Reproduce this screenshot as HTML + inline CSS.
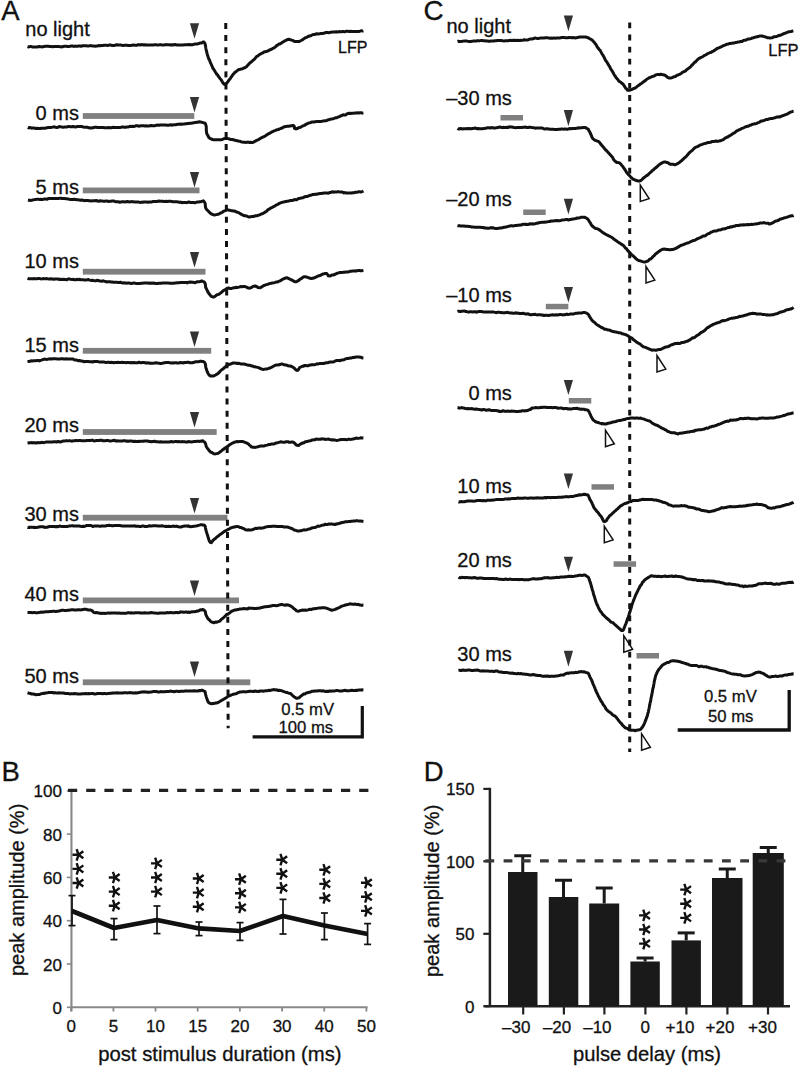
<!DOCTYPE html>
<html><head><meta charset="utf-8"><style>
html,body{margin:0;padding:0;background:#fff;}
body{width:799px;height:1067px;overflow:hidden;}
svg{display:block;font-family:"Liberation Sans", sans-serif;}
text{stroke:#111;stroke-width:0.3px;}
</style></head><body>
<svg width="799" height="1067" viewBox="0 0 799 1067">
<rect width="799" height="1067" fill="#fff"/>
<text x="1.2" y="19.75" font-size="27.5" text-anchor="start" fill="#111" >A</text>
<polyline points="27.5,46.7 28.1,46.9 28.8,46.8 29.6,46.7 30.4,46.6 31.3,46.6 32.2,46.9 33.2,46.9 34.3,47.1 35.4,47.0 36.5,46.9 37.7,46.9 38.9,46.5 40.1,46.7 41.4,46.8 42.7,46.9 44.1,46.4 45.5,46.2 46.8,46.2 48.3,46.3 49.7,46.5 51.1,46.5 52.6,46.7 54.1,46.5 55.5,46.6 57.0,46.6 58.5,46.4 60.0,46.8 61.0,46.8 62.1,46.9 63.2,46.5 64.3,46.3 65.4,46.3 66.5,46.3 67.7,46.4 68.8,46.4 70.0,46.3 71.2,46.1 72.4,46.0 73.7,46.4 74.9,46.1 76.1,46.2 77.4,46.2 78.6,45.9 79.9,46.0 81.2,46.3 82.5,45.7 83.7,45.8 85.0,45.8 86.3,45.7 87.6,45.9 88.9,45.9 90.2,45.6 91.5,45.8 92.7,45.9 94.0,46.0 95.3,46.2 96.6,46.0 97.8,45.9 99.1,45.5 100.3,45.7 101.6,45.5 102.8,45.4 104.0,45.2 105.2,45.2 106.4,45.2 107.6,45.6 108.9,45.1 110.1,45.0 111.4,45.2 112.7,45.6 114.0,45.6 115.3,45.1 116.6,44.7 117.9,45.0 119.2,45.0 120.5,44.9 121.8,45.2 123.0,45.4 124.3,45.3 125.6,45.3 126.9,45.3 128.2,45.5 129.4,45.5 130.7,45.4 131.9,45.3 133.2,44.9 134.4,45.2 135.6,45.3 136.9,45.3 138.1,44.7 139.3,44.7 140.4,45.0 141.6,44.6 142.8,44.7 143.9,45.0 145.0,44.7 146.1,45.1 147.2,45.1 148.3,44.9 149.3,44.9 150.4,45.0 151.4,44.9 153.0,45.1 154.5,44.8 156.0,44.7 157.4,44.9 158.9,44.9 160.3,44.6 161.6,44.9 163.0,45.1 164.3,44.9 165.6,44.6 166.8,44.7 168.1,44.7 169.3,44.7 170.4,45.0 171.6,44.7 172.7,45.0 173.8,44.7 174.9,44.6 176.0,44.8 177.0,45.1 178.0,45.1 179.0,45.0 180.0,45.0 181.7,44.9 183.2,44.9 184.7,44.7 186.1,44.7 187.4,44.7 188.6,44.6 189.8,44.7 190.9,44.6 191.9,44.9 192.9,44.6 193.9,44.3 194.9,44.1 195.8,44.0 197.7,43.9 199.3,43.3 200.8,42.9 202.0,42.9 203.1,42.0 204.0,42.1 204.8,43.1 205.2,44.4 205.5,45.9 205.7,47.3 206.0,49.1 206.3,50.3 206.6,51.4 207.0,53.2 207.3,54.4 207.7,55.5 208.1,56.8 208.5,58.0 208.9,59.2 209.4,59.8 209.9,61.1 210.4,62.7 210.9,63.6 211.5,64.8 212.0,66.1 212.6,67.5 213.2,68.8 213.9,69.4 214.5,70.5 215.2,71.7 216.0,73.0 216.7,74.3 217.5,74.8 218.4,76.4 219.2,77.2 220.0,78.6 220.8,79.3 221.5,80.4 222.5,82.1 223.3,83.3 224.1,84.2 225.0,84.5 225.7,84.0 226.6,83.2 227.4,82.4 228.3,81.2 229.1,79.8 230.0,79.1 230.8,77.6 231.7,76.6 232.5,75.2 233.3,74.1 234.2,73.2 235.0,72.3 236.3,71.4 237.6,70.3 238.8,69.6 240.0,69.4 241.3,68.9 242.6,68.7 244.0,67.9 244.9,67.8 245.8,67.1 246.8,66.4 247.8,65.1 248.9,64.1 250.0,62.8 250.9,62.2 251.8,61.6 252.8,60.4 253.8,59.7 254.8,58.9 255.7,57.7 256.7,56.4 257.6,56.1 258.7,55.2 259.8,54.3 260.8,53.8 261.9,53.2 262.9,52.9 264.0,52.0 265.1,51.7 266.2,51.5 267.3,51.3 268.5,50.6 269.7,49.9 271.0,49.5 272.0,48.9 273.1,48.2 274.2,47.8 275.4,46.9 276.5,45.7 277.7,45.1 278.9,44.1 280.0,43.9 281.1,43.3 282.2,42.4 283.4,41.7 284.5,41.1 285.6,40.4 286.8,40.0 287.9,39.4 289.0,39.3 290.3,39.6 291.5,40.1 292.7,40.4 294.0,41.2 295.3,41.4 296.6,41.6 298.0,41.4 299.0,41.6 300.1,41.0 301.1,40.5 302.2,39.9 303.3,39.2 304.4,38.3 305.6,37.7 306.8,37.3 308.1,36.5 309.4,36.0 310.4,35.8 311.5,35.3 312.6,34.7 313.7,34.4 314.8,34.5 315.9,33.9 317.1,33.7 318.3,33.9 319.5,33.8 320.8,33.6 322.2,33.5 323.6,33.3 325.0,32.8 326.1,32.5 327.2,32.4 328.4,32.7 329.7,32.5 331.0,32.3 332.3,32.1 333.6,31.9 334.9,32.0 336.3,31.8 337.6,32.0 339.0,31.6 340.3,31.8 341.6,31.7 342.9,31.4 344.1,31.7 345.3,31.7 346.5,31.2 347.6,31.2 349.1,31.4 350.6,31.3 352.0,31.5 353.5,31.5 354.9,31.5 356.3,31.4 357.6,31.5 358.8,31.4 359.9,31.3 361.0,30.7 361.9,30.9 362.7,31.1 363.4,30.9" fill="none" stroke="#111" stroke-width="3.0" stroke-linejoin="round" stroke-linecap="butt"/>
<polyline points="27.9,127.4 28.6,127.9 29.5,127.4 30.5,127.7 31.7,128.2 33.0,127.9 34.4,128.1 35.8,128.5 37.2,128.3 38.6,128.4 40.0,128.5 41.3,128.2 42.5,128.2 43.7,128.2 44.8,128.3 45.9,128.1 46.9,127.9 48.0,127.5 49.0,127.4 50.1,127.5 51.4,127.4 52.7,127.1 54.3,126.8 56.0,127.4 57.0,127.4 58.0,127.3 59.2,126.6 60.4,126.8 61.7,126.9 63.0,127.2 64.4,127.1 65.8,126.9 67.2,126.9 68.6,126.4 70.1,126.7 71.5,126.7 72.9,126.5 74.3,126.8 75.6,127.1 76.9,126.6 78.1,126.4 79.3,126.6 80.3,126.6 81.3,126.5 82.2,126.4 83.0,126.9 85.4,127.2 85.2,127.2 87.6,127.2 88.4,127.7 89.2,127.8 90.2,128.1 91.3,128.0 92.4,127.7 93.6,127.7 94.8,127.2 96.1,127.2 97.5,127.4 98.9,127.6 100.3,127.5 101.7,127.5 103.1,127.6 104.5,127.7 105.9,127.8 107.3,127.7 108.6,127.6 109.9,127.7 111.2,127.7 112.4,127.4 113.5,127.3 114.6,127.4 116.1,127.4 117.4,127.4 118.7,127.4 119.9,127.4 121.1,127.3 122.2,127.0 123.3,127.1 124.4,127.3 125.5,127.2 126.6,127.0 127.7,127.0 128.9,126.7 130.0,126.3 131.3,126.4 132.6,126.3 133.7,126.5 134.9,126.2 136.1,125.7 137.3,125.7 138.5,126.2 139.8,126.1 141.0,125.8 142.3,125.7 143.6,125.8 144.8,125.9 146.1,125.8 147.4,126.0 148.7,125.9 150.0,125.7 151.3,125.6 152.6,125.8 153.8,125.7 155.1,125.7 156.4,125.2 157.7,125.1 159.0,125.2 160.3,125.0 161.7,125.1 163.0,125.1 164.4,125.1 165.7,124.9 167.0,125.3 168.4,125.3 169.7,124.9 170.9,124.8 172.2,125.2 173.4,124.8 174.5,124.8 175.6,124.8 176.7,124.6 177.7,124.2 179.3,124.2 180.8,124.1 182.1,124.2 183.3,124.1 184.3,123.9 185.4,123.8 186.5,123.7 187.6,123.5 188.7,123.4 190.0,123.2 191.2,123.3 192.4,122.9 193.8,122.7 195.2,122.6 196.5,122.2 197.9,122.2 199.3,121.8 200.6,121.9 201.8,122.3 202.9,122.6 203.8,122.8 204.6,123.2 205.4,123.6 205.9,125.1 206.2,126.3 206.3,127.8 206.3,128.8 206.3,130.2 206.4,131.1 206.6,132.7 206.9,134.0 207.6,134.9 208.2,136.3 209.0,137.7 209.9,138.3 211.1,138.9 212.5,139.5 213.4,139.7 214.5,139.7 215.7,139.8 217.0,139.8 218.4,139.8 219.7,139.7 221.1,139.7 222.4,139.5 223.7,138.8 224.9,138.6 226.0,138.4 227.5,138.4 228.7,138.8 229.8,139.1 230.9,139.6 232.1,139.6 233.4,139.8 235.0,140.3 236.0,140.5 237.1,140.7 238.3,141.0 239.6,141.2 240.9,141.7 242.2,142.0 243.6,142.2 244.9,142.2 246.2,142.4 247.5,142.1 248.7,142.3 249.8,142.5 250.8,142.3 252.2,142.4 253.4,142.2 254.4,141.6 255.3,141.2 256.2,140.6 257.2,140.2 258.4,139.6 259.8,138.8 260.7,138.1 261.8,137.6 262.9,137.0 264.0,136.6 265.2,136.0 266.5,135.1 267.7,134.2 268.9,133.6 270.2,132.9 271.4,132.2 272.5,131.7 273.6,131.1 274.7,130.7 275.6,130.4 277.1,129.7 278.3,129.6 279.5,128.9 280.5,128.6 281.5,128.1 282.5,128.0 283.5,127.0 284.6,126.7 285.9,126.5 287.4,126.3 288.8,126.3 290.2,125.9 291.5,125.7 292.7,125.6 293.6,125.6 294.4,126.7 294.4,128.3 295.9,129.0 296.6,128.5 297.5,128.5 298.4,127.8 299.5,127.4 300.6,127.3 301.8,126.5 303.1,125.8 304.3,125.4 305.6,124.6 306.9,123.8 308.1,123.3 309.4,122.9 310.5,122.6 311.6,122.0 312.9,122.0 314.1,122.0 315.2,121.7 316.3,121.6 317.3,121.4 318.4,121.6 319.5,121.4 320.7,121.4 322.0,121.2 323.4,120.9 325.0,120.8 326.0,120.8 327.0,120.4 328.1,119.8 329.3,119.7 330.5,119.2 331.7,118.9 332.9,118.7 334.2,118.4 335.5,117.7 336.8,117.7 338.1,117.0 339.4,116.6 340.7,115.9 341.9,115.5 343.1,114.8 344.3,115.0 345.5,114.9 346.6,114.2 347.6,113.7 349.1,113.2 350.6,113.5 352.0,113.2 353.5,113.2 354.9,113.0 356.3,113.0 357.6,112.8 358.8,112.9 359.9,112.7 361.0,112.8 361.9,113.0 362.7,113.1 363.4,113.0" fill="none" stroke="#111" stroke-width="3.0" stroke-linejoin="round" stroke-linecap="butt"/>
<polyline points="27.9,200.2 28.6,200.3 29.3,200.1 30.2,200.4 31.2,200.4 32.2,200.1 33.3,199.9 34.5,199.6 35.7,199.4 37.0,199.3 38.3,199.3 39.7,199.4 41.1,199.3 42.5,199.6 43.9,199.1 45.4,198.9 46.8,199.3 48.2,198.6 49.7,198.4 51.0,198.5 52.4,198.5 53.7,198.5 55.0,198.4 56.2,198.5 57.4,198.5 58.6,198.6 59.8,198.2 61.0,198.2 62.1,198.4 63.3,198.4 64.5,198.4 65.7,198.8 66.9,198.8 68.1,199.1 69.3,199.3 70.5,199.4 71.7,199.5 73.0,199.5 74.2,199.3 75.4,199.5 76.7,199.8 77.9,199.8 79.2,199.9 80.4,200.2 81.7,200.0 83.0,200.3 84.2,200.7 85.3,200.4 86.5,200.5 87.7,200.5 88.9,200.8 90.1,200.8 91.3,200.9 92.5,200.7 93.8,200.7 95.0,200.8 96.2,200.5 97.5,201.0 98.7,201.2 100.0,200.8 101.2,201.1 102.4,201.1 103.7,201.2 104.9,201.3 106.2,201.0 107.4,201.1 108.6,201.5 109.8,201.3 111.0,201.2 112.2,201.0 113.4,201.0 114.6,201.3 115.9,201.8 117.1,201.8 118.4,201.8 119.7,202.2 121.0,201.9 122.2,201.7 123.5,201.8 124.8,201.9 126.1,201.7 127.3,201.5 128.6,201.7 129.8,201.9 131.1,201.6 132.3,201.7 133.5,201.7 134.7,201.9 135.9,201.9 137.1,201.9 138.3,201.9 139.4,202.2 140.6,202.4 141.7,202.1 142.8,202.2 143.9,202.0 145.3,202.0 146.7,202.1 148.0,202.3 149.3,202.0 150.6,201.9 151.9,201.9 153.1,201.5 154.3,201.6 155.5,201.4 156.7,201.6 157.9,201.3 159.1,201.0 160.3,201.2 161.5,201.3 162.7,201.2 163.9,201.5 165.1,201.4 166.4,201.3 167.6,201.4 168.9,201.2 170.2,201.2 171.5,201.4 172.8,201.7 174.1,201.7 175.4,201.8 176.8,201.8 178.1,201.9 179.4,202.4 180.7,202.1 182.0,202.7 183.3,202.4 184.5,202.4 185.7,202.5 186.8,202.7 187.9,202.3 189.0,202.0 190.0,202.4 191.6,202.5 193.2,202.5 194.7,202.8 196.1,202.4 197.4,202.0 198.7,201.9 199.8,201.7 200.9,201.8 201.8,201.3 202.7,201.3 203.5,200.9 204.5,202.1 205.1,203.3 205.3,204.9 205.4,206.7 205.7,207.9 206.2,208.9 206.9,209.7 207.7,210.5 208.6,211.4 209.6,212.5 210.6,213.3 211.5,214.0 212.5,214.4 213.8,214.9 215.1,214.9 216.5,214.6 217.9,214.3 219.3,213.8 220.4,213.1 221.4,212.8 222.5,212.2 223.6,211.2 224.8,210.8 225.9,210.3 227.2,209.7 228.4,210.1 229.6,210.2 230.8,210.5 232.1,210.7 233.4,211.0 234.7,211.1 236.0,211.8 237.3,212.2 238.5,212.6 239.6,213.2 240.7,213.9 241.9,214.6 243.0,215.1 244.2,215.7 245.5,215.7 246.8,216.2 248.1,216.7 249.3,217.0 250.5,216.7 251.9,216.5 253.3,216.6 254.7,216.0 256.0,215.8 257.4,215.7 258.7,215.1 260.0,214.8 261.1,214.1 262.1,213.8 263.6,213.1 264.6,212.4 265.5,211.9 266.3,211.5 267.4,210.3 268.8,209.2 269.7,208.8 270.7,208.0 271.7,207.6 272.8,207.1 273.9,206.4 275.1,205.9 276.3,204.9 277.5,204.6 278.8,203.7 280.0,203.1 281.1,202.7 282.3,202.3 283.5,202.1 284.7,201.8 285.9,201.4 287.1,201.2 288.2,201.2 289.4,200.8 290.6,200.6 291.9,200.5 293.2,200.2 294.5,199.5 295.9,199.7 297.0,199.7 298.0,198.7 299.1,198.4 300.3,198.2 301.4,198.1 302.6,197.8 303.7,197.3 304.9,196.7 306.2,196.5 307.4,196.4 308.7,195.8 309.9,195.3 311.2,195.2 312.6,194.6 313.9,194.5 315.1,194.3 316.3,194.3 317.5,194.0 318.8,193.7 320.1,193.5 321.5,193.4 322.8,193.2 324.2,193.1 325.6,193.1 326.9,193.1 328.3,193.2 329.6,192.6 330.8,192.4 332.1,191.7 333.3,192.2 334.4,191.9 335.4,191.9 336.4,192.0 338.1,191.6 339.6,191.9 340.8,192.1 341.9,191.9 342.9,192.3 343.9,192.9 345.0,192.6 346.2,193.0 347.6,193.0 348.7,193.1 349.9,193.0 351.3,193.1 352.6,192.7 354.1,192.7 355.5,192.3 356.9,192.3 358.3,191.8 359.6,191.7 360.7,191.9 361.8,191.7 362.7,191.4 363.4,191.0" fill="none" stroke="#111" stroke-width="3.0" stroke-linejoin="round" stroke-linecap="butt"/>
<polyline points="27.5,278.3 28.1,278.5 28.8,278.7 29.6,278.7 30.4,278.8 31.2,278.7 32.1,278.9 33.0,278.7 34.0,278.6 35.0,278.8 36.0,278.8 37.1,278.7 38.3,278.6 39.4,278.6 40.6,278.8 41.8,278.9 43.1,278.6 44.3,278.8 45.6,278.8 46.9,278.6 48.3,278.9 49.6,278.9 51.0,278.8 52.4,279.0 53.7,279.3 55.1,279.0 56.5,279.1 58.0,278.9 59.4,279.5 60.8,279.2 62.2,279.4 63.6,279.2 65.1,279.4 66.5,279.8 67.9,279.1 69.3,279.1 70.7,279.3 72.0,279.4 73.4,279.3 74.7,279.8 76.1,279.7 77.4,279.3 78.6,279.7 79.9,279.3 81.1,279.8 82.3,279.7 83.5,279.8 84.8,280.1 86.0,280.1 87.3,279.8 88.5,279.6 89.7,280.1 90.9,280.4 92.2,280.2 93.4,280.5 94.6,280.7 95.8,280.8 97.0,280.3 98.1,280.5 99.3,280.9 100.5,281.1 101.7,281.3 102.9,280.8 104.0,281.1 105.2,281.4 106.4,282.0 107.5,281.7 108.7,281.7 109.9,281.8 111.0,282.1 112.2,282.0 113.4,282.3 114.5,282.2 115.7,282.3 116.9,282.3 118.1,282.4 119.2,282.4 120.4,282.2 121.6,282.7 122.8,282.9 124.0,282.8 125.2,282.9 126.4,283.2 127.7,283.0 128.9,283.1 130.1,283.2 131.4,283.4 132.6,283.3 133.9,282.9 135.1,283.3 136.3,283.4 137.5,283.4 138.7,283.4 140.0,283.4 141.3,283.3 142.5,283.2 143.9,283.1 145.2,283.1 146.5,283.1 147.8,283.0 149.2,283.3 150.6,283.1 151.9,283.3 153.3,283.1 154.7,283.3 156.0,283.6 157.4,283.5 158.8,283.2 160.2,283.2 161.5,283.3 162.9,282.9 164.3,282.9 165.6,283.0 166.9,282.9 168.3,283.0 169.6,283.2 170.9,283.2 172.2,283.3 173.4,283.2 174.7,283.0 175.9,282.9 177.1,282.8 178.3,282.7 179.4,282.7 180.5,282.4 181.6,282.4 182.7,282.5 183.7,282.4 184.7,282.5 185.7,282.6 186.6,282.6 187.5,283.0 188.4,282.2 189.2,282.3 190.0,282.0 192.9,282.3 195.2,282.7 197.0,281.8 198.5,281.7 199.6,281.7 200.5,281.4 201.2,281.4 201.7,280.9 202.3,281.2 202.8,281.4 203.5,281.6 204.5,282.2 205.1,283.5 205.4,284.6 205.5,286.1 205.7,287.4 206.2,288.3 206.8,289.6 207.5,291.0 208.2,292.5 209.0,293.5 209.8,294.6 210.6,295.7 211.4,296.3 212.7,296.9 214.0,297.0 215.4,296.0 217.0,294.8 218.0,294.6 219.0,294.2 220.1,293.4 221.3,292.5 222.5,291.4 223.7,290.4 224.9,289.9 226.0,289.1 227.3,288.3 228.6,288.0 229.9,288.5 231.1,288.6 232.4,288.1 233.7,287.8 235.0,287.7 236.3,287.3 237.7,287.4 239.0,287.1 240.4,286.6 241.7,286.8 242.9,286.5 244.0,286.5 245.7,286.8 247.1,287.4 248.4,288.1 249.7,288.2 251.1,287.6 252.6,286.7 254.0,286.2 255.3,286.0 256.7,286.6 258.0,287.4 259.8,287.7 260.7,287.5 261.7,286.9 262.7,286.3 263.9,285.5 265.1,285.1 266.3,284.7 267.5,284.3 268.8,283.8 270.0,283.4 271.2,283.3 272.5,282.9 273.9,282.7 275.2,282.4 276.5,282.0 277.8,281.9 278.9,281.3 280.0,280.9 281.4,280.1 282.5,279.3 283.5,278.9 284.5,278.5 285.6,277.9 286.8,277.8 287.8,278.1 288.9,278.6 290.0,279.3 291.2,279.7 292.4,280.3 293.6,281.1 294.8,281.8 295.9,281.8 297.0,281.3 298.2,280.7 299.4,279.8 300.5,278.9 301.7,278.4 302.8,277.4 303.9,276.8 304.9,276.8 306.3,276.9 307.4,277.3 308.5,277.7 309.9,278.3 311.6,278.6 312.6,278.3 313.8,278.1 315.0,277.5 316.4,276.9 317.8,276.2 319.2,275.7 320.6,275.3 321.9,274.4 323.1,274.0 324.2,273.7 325.1,273.4 326.8,273.6 327.6,274.6 328.4,275.8 329.6,276.1 330.6,275.8 331.8,275.1 333.1,275.1 334.5,274.5 335.9,273.9 337.3,273.2 338.6,272.9 339.8,272.5 341.0,272.4 342.1,272.5 343.3,272.3 344.6,272.3 346.1,271.9 347.7,272.1 348.7,271.8 349.9,271.3 351.2,271.3 352.6,271.1 354.0,270.9 355.4,270.8 356.8,270.9 358.2,270.5 359.5,270.5 360.7,270.8 361.8,270.7 362.7,270.5 363.4,270.4" fill="none" stroke="#111" stroke-width="3.0" stroke-linejoin="round" stroke-linecap="butt"/>
<polyline points="27.5,361.6 28.2,361.5 28.9,361.6 29.8,361.4 30.9,360.8 32.1,360.9 33.6,360.7 35.4,360.8 37.5,360.6 38.4,360.6 39.4,360.9 40.4,360.4 41.5,360.1 42.6,359.7 43.8,359.3 45.1,359.1 46.3,359.4 47.6,359.2 49.0,358.9 50.3,358.7 51.7,358.9 53.1,358.7 54.4,358.7 55.8,358.7 57.2,358.9 58.6,359.1 59.9,359.0 61.2,358.8 62.5,358.7 63.8,359.0 65.0,359.1 66.2,358.8 67.2,358.9 68.3,359.0 69.3,359.0 70.3,359.0 71.2,358.9 72.2,359.1 73.2,359.1 74.2,359.7 75.2,360.0 76.3,359.9 77.5,360.5 78.7,360.8 80.0,360.5 81.3,361.1 82.8,361.3 84.4,361.8 86.1,361.4 88.0,361.6 90.0,361.8 90.9,361.8 91.8,361.8 92.7,362.0 93.7,361.6 94.7,361.5 95.8,361.4 96.8,361.5 97.9,361.6 99.0,361.9 100.2,362.0 101.3,362.0 102.5,361.9 103.7,361.9 104.9,362.2 106.2,362.4 107.4,362.3 108.7,362.2 110.0,362.6 111.3,362.3 112.6,362.5 113.9,362.7 115.2,362.5 116.6,362.6 117.9,362.3 119.3,362.6 120.6,362.6 121.9,362.3 123.3,362.5 124.6,362.4 126.0,362.7 127.3,362.5 128.7,362.6 130.0,362.7 131.3,362.6 132.6,362.7 133.9,362.6 135.2,362.8 136.5,362.8 137.8,362.8 139.0,362.2 140.3,362.7 141.5,362.8 142.7,362.4 143.9,362.6 145.0,362.8 146.1,363.1 147.2,362.8 148.3,363.1 149.4,363.0 150.4,363.4 151.4,363.2 153.0,363.2 154.5,363.0 156.0,362.7 157.5,363.1 159.0,363.2 160.4,363.4 161.8,363.4 163.2,363.0 164.6,362.7 166.0,362.6 167.3,362.6 168.6,362.6 169.9,362.8 171.2,362.9 172.5,362.8 173.7,362.9 174.9,362.8 176.1,362.8 177.2,363.0 178.4,363.0 179.5,362.8 180.6,362.4 181.6,362.8 182.6,362.8 183.7,362.9 184.6,362.4 185.6,362.4 186.5,362.5 187.4,362.2 188.3,362.3 189.2,362.5 190.0,362.7 192.2,362.8 194.1,362.3 195.8,361.8 197.2,361.8 198.4,361.8 199.5,361.6 200.4,361.2 201.3,361.3 202.0,361.5 202.8,361.6 203.5,361.6 204.6,362.4 205.2,363.6 205.5,364.7 205.6,365.8 205.8,367.4 206.2,368.8 206.7,370.1 207.2,371.6 207.7,372.7 208.3,373.9 209.0,374.8 209.8,375.6 210.8,376.1 211.8,375.9 213.0,376.0 214.2,375.7 215.6,375.0 217.0,374.1 217.9,373.7 218.9,372.6 219.9,371.6 220.9,370.4 222.0,369.6 223.1,368.9 224.1,367.9 225.2,367.0 226.2,366.1 227.2,365.5 228.5,364.5 229.8,364.3 231.0,363.8 232.2,363.3 233.4,363.0 234.7,362.9 236.2,363.2 237.3,363.5 238.5,363.2 239.8,363.6 241.1,364.0 242.4,364.0 243.7,364.0 245.0,364.3 246.3,364.6 247.5,365.1 248.6,365.3 250.1,365.3 251.4,365.9 252.7,366.0 253.9,366.7 255.1,366.8 256.3,367.1 257.6,367.4 258.9,367.7 260.1,368.5 261.3,368.9 262.5,369.3 263.8,369.4 265.1,369.1 266.6,369.0 267.7,368.7 268.9,368.3 270.1,368.0 271.3,367.4 272.6,366.7 273.9,366.0 275.2,365.2 276.5,365.1 277.7,365.1 279.0,364.8 280.3,364.5 281.6,363.9 282.9,364.3 284.3,364.8 285.6,364.9 286.9,365.3 288.2,365.7 289.4,366.0 290.4,366.0 291.4,366.4 293.0,367.3 294.1,368.0 295.1,369.1 296.0,369.9 297.0,370.4 298.0,370.2 298.8,369.1 299.6,367.6 300.8,367.0 302.6,366.2 303.5,366.2 304.4,365.5 305.5,365.6 306.6,365.8 307.8,365.8 309.1,365.3 310.4,365.0 311.7,364.7 313.0,364.7 314.4,364.7 315.7,364.4 317.1,363.8 318.4,363.9 319.5,363.6 320.7,363.5 321.8,363.4 323.0,363.5 324.2,363.4 325.3,362.9 326.5,362.7 327.7,362.8 328.9,362.3 330.1,362.1 331.4,362.1 332.6,362.0 333.9,361.7 335.1,361.0 336.4,360.6 337.6,360.6 338.8,360.5 340.0,360.7 341.3,360.1 342.6,360.0 343.9,359.8 345.3,359.0 346.6,358.6 347.9,358.5 349.2,358.2 350.4,358.0 351.7,357.9 352.8,357.5 353.9,357.5 354.9,357.2 355.9,357.0 356.7,357.1 359.0,356.9 360.7,357.2 361.9,357.8 362.7,358.0 363.4,358.1" fill="none" stroke="#111" stroke-width="3.0" stroke-linejoin="round" stroke-linecap="butt"/>
<polyline points="27.5,443.0 28.1,442.9 28.8,443.1 29.5,442.7 30.3,442.8 31.1,442.7 31.9,442.5 32.8,442.9 33.7,442.6 34.7,442.9 35.7,442.8 36.7,443.0 37.8,442.5 38.9,442.7 40.0,442.8 41.1,442.5 42.3,442.3 43.5,442.7 44.7,442.4 46.0,442.1 47.2,441.9 48.5,442.0 49.8,442.0 51.2,441.9 52.5,442.1 53.8,441.8 55.2,441.8 56.6,442.0 58.0,441.5 59.4,441.7 60.8,441.9 62.2,441.3 63.6,441.1 65.0,440.9 66.4,440.6 67.8,440.9 69.3,440.6 70.7,440.9 72.1,441.2 73.5,440.7 74.9,440.7 76.3,440.4 77.7,440.7 79.0,440.6 80.4,440.6 81.7,440.7 83.1,440.8 84.4,440.7 85.7,440.7 86.9,440.6 88.0,440.6 89.2,440.4 90.4,440.5 91.6,440.2 92.8,440.3 94.0,440.9 95.3,440.8 96.5,440.5 97.8,440.6 99.0,440.5 100.3,440.2 101.6,440.3 102.9,440.7 104.2,440.8 105.5,440.8 106.7,440.6 108.0,440.5 109.3,440.9 110.7,440.9 112.0,440.7 113.3,440.4 114.6,440.3 115.9,441.1 117.2,440.8 118.5,440.9 119.8,441.0 121.1,441.0 122.4,441.0 123.6,440.7 124.9,440.7 126.2,441.2 127.5,441.1 128.7,441.3 130.0,440.9 131.2,441.0 132.5,441.2 133.7,441.5 134.9,441.2 136.1,441.4 137.3,441.5 138.5,441.3 139.6,441.4 140.8,441.3 141.9,441.2 143.1,441.3 144.2,440.9 145.2,441.1 146.3,441.1 147.4,441.0 148.4,441.2 149.4,441.5 150.4,441.5 151.4,441.8 153.0,441.5 154.6,441.3 156.2,441.8 157.7,441.8 159.2,442.0 160.7,441.7 162.1,441.9 163.5,441.9 164.9,442.0 166.3,441.9 167.6,442.1 169.0,441.9 170.3,441.7 171.5,441.5 172.8,441.9 174.0,441.8 175.1,441.6 176.3,441.6 177.4,441.7 178.6,441.5 179.6,441.7 180.7,441.7 181.7,441.7 182.7,441.6 183.7,441.8 184.7,441.8 185.6,441.9 186.6,442.0 187.5,442.1 188.3,441.6 189.2,441.7 190.0,441.7 192.2,441.9 194.1,441.5 195.8,441.4 197.2,441.3 198.4,441.2 199.5,441.4 200.4,441.1 201.2,441.3 202.0,440.9 202.7,440.7 203.5,441.4 204.8,442.3 205.5,443.6 205.9,445.0 206.2,446.5 206.9,447.5 207.7,448.8 208.6,449.8 209.6,451.1 210.5,452.0 211.5,452.4 212.5,452.9 213.9,453.8 215.3,453.9 216.8,453.6 218.2,453.3 219.3,452.6 220.4,451.7 221.5,450.8 222.6,449.8 223.8,449.1 224.8,448.1 225.9,447.6 226.9,446.8 228.1,446.0 229.2,445.1 230.5,444.2 231.7,443.5 233.0,442.9 234.3,442.3 235.7,441.9 237.0,441.5 238.3,441.7 239.5,441.6 241.0,441.5 242.4,441.4 243.7,441.9 245.0,442.4 246.3,442.9 247.4,443.4 248.4,443.8 249.4,445.1 250.5,445.9 251.7,447.1 253.1,447.2 254.2,447.2 255.3,447.4 256.6,447.1 257.9,446.8 259.2,446.4 260.6,446.0 261.9,446.1 263.1,445.9 264.3,445.9 265.7,445.4 267.2,445.1 268.5,444.6 269.9,444.6 271.1,444.0 272.3,444.0 273.3,444.0 274.8,443.7 275.8,442.9 277.8,442.7 278.7,442.4 279.8,442.1 281.0,441.8 282.4,442.1 283.8,442.4 285.2,442.0 286.6,441.7 287.9,441.7 289.2,442.3 290.4,442.3 291.4,442.1 292.9,442.1 294.2,442.8 295.3,443.9 296.3,445.0 297.2,445.3 298.1,445.4 299.2,445.2 299.9,444.3 300.9,443.9 302.6,442.9 303.5,443.0 304.6,442.2 305.8,441.7 307.0,441.6 308.4,441.1 309.8,440.9 311.1,440.5 312.5,439.9 313.8,439.8 315.0,439.7 316.1,439.0 317.6,439.3 319.0,439.2 320.3,439.3 321.5,438.8 322.7,438.9 323.9,439.0 325.1,439.4 326.3,439.2 327.5,439.2 328.7,439.1 329.9,439.5 331.2,439.9 332.6,439.7 334.1,439.9 335.2,440.1 336.3,440.4 337.4,440.4 338.6,440.1 339.9,439.7 341.1,439.5 342.4,439.4 343.7,439.5 345.0,439.4 346.4,439.7 347.7,439.5 348.9,439.1 350.2,439.4 351.5,439.3 352.9,439.1 354.3,438.7 355.7,438.3 357.1,438.1 358.4,438.4 359.7,438.1 360.8,437.8 361.8,438.0 362.7,438.0 363.4,438.1" fill="none" stroke="#111" stroke-width="3.0" stroke-linejoin="round" stroke-linecap="butt"/>
<polyline points="27.5,527.4 28.1,527.6 28.8,527.3 29.5,527.5 30.3,527.2 31.1,527.3 31.9,527.3 32.8,527.3 33.7,527.4 34.7,527.3 35.7,527.4 36.7,527.4 37.8,527.3 38.9,527.0 40.0,526.8 41.1,526.8 42.3,526.8 43.5,526.8 44.7,527.4 46.0,527.3 47.2,527.2 48.5,526.8 49.8,526.6 51.2,526.6 52.5,526.6 53.8,526.4 55.2,526.8 56.6,526.5 58.0,526.7 59.4,526.1 60.8,526.3 62.2,526.4 63.6,526.4 65.0,526.5 66.4,526.5 67.8,526.4 69.3,525.9 70.7,525.9 72.1,525.6 73.5,526.0 74.9,526.1 76.3,526.1 77.7,525.9 79.0,525.9 80.4,526.3 81.7,526.5 83.1,526.3 84.4,526.4 85.7,525.9 86.9,525.5 88.0,525.6 89.2,525.6 90.4,525.6 91.6,525.8 92.8,526.5 94.0,526.1 95.3,526.0 96.5,526.0 97.8,526.0 99.0,526.1 100.3,526.4 101.6,525.9 102.9,525.9 104.2,525.9 105.5,526.0 106.7,525.6 108.0,525.4 109.3,525.2 110.7,525.6 112.0,525.8 113.3,525.8 114.6,525.4 115.9,525.5 117.2,525.6 118.5,525.4 119.8,525.5 121.1,525.8 122.4,526.0 123.6,525.9 124.9,526.0 126.2,525.9 127.5,525.9 128.7,525.9 130.0,526.1 131.2,526.0 132.5,525.9 133.7,525.9 134.9,525.8 136.1,526.3 137.3,526.3 138.5,526.2 139.6,526.6 140.8,526.6 141.9,526.0 143.1,526.1 144.2,526.2 145.2,526.5 146.3,526.5 147.4,526.5 148.4,526.0 149.4,525.8 150.4,526.0 151.4,526.1 153.0,525.8 154.6,525.8 156.2,525.8 157.7,525.9 159.2,526.0 160.7,526.0 162.1,525.8 163.5,526.1 164.9,526.4 166.3,526.3 167.6,526.4 169.0,526.3 170.3,526.4 171.5,526.4 172.8,526.1 174.0,526.2 175.1,526.4 176.3,526.1 177.4,526.5 178.6,526.8 179.6,526.9 180.7,527.0 181.7,526.7 182.7,526.4 183.7,526.2 184.7,526.0 185.6,526.1 186.6,526.1 187.5,526.2 188.3,525.8 189.2,526.4 190.0,526.7 192.2,526.4 194.1,526.2 195.8,526.0 197.2,525.7 198.4,525.4 199.5,525.1 200.4,524.8 201.3,524.8 202.0,524.8 202.8,524.9 203.5,524.9 204.7,525.6 205.3,526.6 205.5,528.0 205.7,529.2 206.2,531.0 206.6,532.2 206.9,533.4 207.3,534.5 207.7,535.8 208.1,537.2 208.6,538.7 209.0,540.2 209.4,541.1 209.9,541.7 210.3,542.4 211.2,542.7 212.1,541.7 213.2,540.2 214.8,538.8 215.6,538.4 216.4,537.4 217.4,536.6 218.4,536.0 219.4,534.9 220.5,534.2 221.6,533.5 222.8,532.7 223.9,531.7 225.0,531.1 226.0,530.5 227.1,530.0 228.3,529.2 229.4,528.9 230.6,528.0 231.7,527.6 232.9,527.3 234.0,527.2 235.1,526.7 236.2,526.7 237.3,526.4 238.6,526.7 239.9,527.4 241.2,527.6 242.4,528.2 243.7,528.6 244.9,529.4 246.1,530.0 247.4,530.1 248.6,529.8 249.8,529.9 250.9,529.9 252.0,529.8 253.2,529.5 254.5,528.7 256.0,528.3 257.6,528.5 258.6,528.0 259.6,528.1 260.8,528.3 262.0,528.1 263.2,527.9 264.5,527.5 265.7,526.9 267.0,526.8 268.3,526.6 269.6,526.5 270.9,526.5 272.2,526.3 273.4,526.3 274.5,526.3 275.6,526.2 277.0,526.5 278.4,526.5 279.7,526.4 281.0,526.4 282.3,526.4 283.5,526.9 284.7,527.0 285.9,526.9 287.0,527.1 288.1,527.3 289.1,527.5 290.6,528.3 291.9,528.5 293.0,529.3 294.2,530.0 295.3,530.2 296.6,530.7 298.1,530.9 299.2,531.0 300.3,530.8 301.5,530.7 302.7,530.2 303.9,529.8 305.2,529.9 306.5,529.8 307.8,529.4 309.1,528.9 310.4,528.8 311.6,528.0 312.8,527.7 314.1,527.6 315.3,527.4 316.6,526.8 317.9,526.1 319.1,526.2 320.4,525.9 321.6,525.4 322.8,525.1 324.0,525.1 325.1,524.3 326.4,524.5 327.7,524.5 328.9,523.9 330.0,524.2 331.2,523.8 332.4,524.2 333.6,524.2 335.0,524.5 336.4,524.0 337.5,523.7 338.6,523.7 339.8,523.2 341.1,522.8 342.4,522.5 343.7,522.3 345.0,521.8 346.3,521.8 347.5,521.7 348.8,521.4 350.0,521.5 351.1,521.2 352.2,521.2 353.7,520.9 355.2,521.0 356.7,520.6 358.1,520.9 359.4,521.0 360.7,521.1 361.8,521.2 362.7,521.3 363.4,521.4" fill="none" stroke="#111" stroke-width="3.0" stroke-linejoin="round" stroke-linecap="butt"/>
<polyline points="27.5,612.6 28.1,612.6 28.8,612.6 29.6,612.6 30.5,612.4 31.3,612.5 32.3,612.7 33.3,612.6 34.4,612.4 35.5,612.7 36.6,612.7 37.8,612.7 39.0,612.6 40.3,612.3 41.6,612.1 42.9,612.2 44.3,611.9 45.6,611.7 47.0,611.7 48.5,611.7 49.9,611.4 51.4,611.5 52.8,611.3 54.3,611.3 55.8,611.4 57.3,611.2 58.7,611.2 60.2,610.7 61.7,610.3 63.2,610.3 64.6,610.4 66.1,610.6 67.5,610.2 68.9,610.2 70.3,609.9 71.6,609.8 73.0,609.8 74.3,609.9 75.5,609.9 76.7,610.0 77.9,609.7 79.1,609.8 80.2,609.9 81.2,609.8 82.2,609.7 83.2,609.5 84.1,609.3 84.9,609.3 85.7,609.3 88.4,610.0 90.3,609.9 91.5,610.5 92.1,610.7 92.5,611.0 92.7,611.5 93.0,611.7 93.6,612.3 94.6,612.7 96.3,612.6 98.8,613.0 99.6,613.2 100.4,613.2 101.3,613.5 102.2,613.3 103.2,613.3 104.2,613.4 105.3,613.2 106.3,613.4 107.5,613.1 108.6,612.9 109.8,613.2 111.0,613.0 112.2,613.1 113.5,612.9 114.8,613.1 116.1,612.9 117.4,613.2 118.7,612.9 120.1,613.2 121.4,613.2 122.8,613.2 124.2,613.2 125.6,613.3 127.0,613.0 128.4,612.6 129.7,612.9 131.1,612.8 132.5,612.9 133.9,613.1 135.3,612.7 136.6,612.8 138.0,612.8 139.3,612.7 140.6,613.0 141.9,613.0 143.2,612.9 144.5,612.7 145.7,613.0 146.9,612.9 148.1,613.1 149.2,613.1 150.3,612.7 151.4,612.6 152.8,612.8 154.2,612.9 155.7,613.1 157.1,613.2 158.5,613.3 159.9,613.0 161.2,612.9 162.6,613.1 164.0,612.9 165.3,613.1 166.7,612.6 168.0,612.8 169.3,612.8 170.6,612.4 171.9,612.7 173.1,612.8 174.4,612.8 175.6,612.5 176.8,612.5 178.0,612.8 179.1,612.6 180.3,611.9 181.4,612.0 182.4,612.0 183.5,612.2 184.5,612.2 185.5,612.1 186.5,612.0 187.4,612.4 188.3,612.0 189.2,612.5 190.0,612.2 192.2,611.8 194.1,611.8 195.8,611.6 197.2,611.0 198.4,610.9 199.5,610.2 200.4,609.8 201.3,610.0 202.0,609.8 202.8,609.5 203.5,609.8 204.7,610.7 205.2,611.6 205.5,612.5 205.7,614.0 206.2,615.4 206.9,616.7 207.7,618.2 208.5,619.2 209.5,620.1 210.4,621.1 211.4,622.0 212.6,622.2 214.0,622.8 215.3,622.1 216.8,622.2 218.2,621.6 219.1,621.3 220.1,620.8 221.0,619.7 222.0,618.9 222.9,618.1 223.9,617.3 225.0,616.2 226.0,615.2 227.1,614.2 228.1,614.2 229.2,613.2 230.3,612.4 231.4,611.3 232.6,611.0 233.8,610.3 235.0,610.1 236.2,609.9 237.4,609.5 238.6,609.4 239.9,609.0 241.2,608.9 242.4,608.8 243.7,608.6 245.0,608.7 246.3,608.7 247.6,608.9 248.8,608.1 250.1,608.2 251.3,608.2 252.6,608.2 253.8,608.4 255.1,608.5 256.3,608.4 257.6,608.2 258.8,608.2 260.1,608.1 261.3,607.5 262.5,607.4 263.7,607.0 264.9,606.7 266.2,606.7 267.5,606.6 268.8,606.5 270.0,606.1 271.2,606.0 272.4,605.6 273.7,605.6 275.0,605.6 276.3,605.7 277.6,605.6 278.9,605.0 280.1,604.8 281.2,604.5 282.3,604.6 283.9,605.1 285.3,605.2 286.6,604.8 287.9,605.0 289.1,605.2 290.3,605.9 291.4,606.4 292.6,607.2 293.6,608.4 294.5,609.0 295.5,609.7 296.6,610.9 298.1,611.2 299.1,611.0 300.2,610.6 301.4,610.4 302.6,610.0 303.9,610.2 305.2,610.1 306.6,610.2 307.9,609.9 309.2,609.5 310.4,609.2 311.6,609.5 313.0,608.8 314.3,608.7 315.6,608.5 316.9,608.4 318.2,608.1 319.4,608.0 320.6,608.0 321.8,607.8 322.9,607.7 324.3,607.8 325.7,608.0 327.0,608.4 328.3,608.9 329.6,609.4 330.8,610.0 331.9,610.3 333.3,609.9 334.6,609.6 335.9,609.0 337.1,608.5 338.6,607.8 339.6,607.4 340.6,606.8 341.5,606.2 342.6,605.9 343.7,605.6 344.9,605.2 346.2,604.8 347.7,604.5 348.7,604.2 349.9,603.8 351.2,604.1 352.6,604.2 354.0,604.2 355.4,604.1 356.8,604.6 358.2,604.3 359.5,604.9 360.7,605.0 361.8,605.5 362.7,605.1 363.4,605.1" fill="none" stroke="#111" stroke-width="3.0" stroke-linejoin="round" stroke-linecap="butt"/>
<polyline points="27.5,692.8 28.2,693.0 29.2,693.3 30.4,693.4 31.7,694.1 33.1,694.1 34.5,694.3 36.0,694.7 37.5,694.6 38.5,694.5 39.4,694.5 40.3,694.2 41.1,693.8 42.1,693.6 43.0,693.3 44.2,693.5 45.4,692.9 46.9,692.9 48.7,692.5 50.7,692.4 51.5,692.4 52.4,692.5 53.3,692.7 54.2,693.0 55.1,692.7 56.0,692.9 57.0,693.0 57.9,693.1 58.9,692.8 60.0,693.0 61.0,693.0 62.1,693.1 63.2,693.0 64.3,693.2 65.5,693.5 66.7,693.6 67.9,693.5 69.2,693.7 70.5,693.9 71.8,693.6 73.2,693.9 74.6,693.5 76.1,693.7 77.6,693.9 79.1,694.1 80.7,694.0 82.3,693.8 84.0,693.7 85.7,693.5 86.6,693.8 87.6,693.7 88.6,693.6 89.7,693.8 90.7,693.6 91.8,693.6 92.9,693.5 94.0,693.9 95.2,694.1 96.4,693.8 97.5,693.4 98.8,693.5 100.0,693.5 101.2,693.6 102.5,693.7 103.8,693.5 105.0,693.6 106.3,693.7 107.6,693.6 108.9,693.4 110.3,693.2 111.6,693.3 112.9,693.0 114.3,693.0 115.6,692.9 117.0,692.7 118.3,692.9 119.7,692.9 121.0,692.9 122.4,693.1 123.7,692.7 125.1,692.7 126.4,692.8 127.7,692.9 129.1,692.6 130.4,692.7 131.7,692.7 133.0,692.9 134.3,692.9 135.5,692.8 136.8,693.1 138.0,692.7 139.3,692.5 140.5,692.3 141.7,692.1 142.8,692.1 144.0,691.8 145.1,691.9 146.2,692.1 147.3,692.3 148.4,692.1 149.4,692.3 150.4,692.1 151.4,692.0 153.0,691.6 154.6,691.5 156.2,691.5 157.7,691.9 159.2,692.0 160.7,691.6 162.1,691.7 163.5,691.8 164.9,691.7 166.3,691.6 167.6,691.5 169.0,691.4 170.3,691.1 171.5,691.2 172.8,691.6 174.0,691.8 175.1,691.5 176.3,691.3 177.4,691.2 178.6,691.4 179.6,691.4 180.7,691.2 181.7,691.3 182.7,691.2 183.7,691.3 184.7,691.1 185.6,690.8 186.6,690.9 187.5,691.1 188.3,690.9 189.2,690.9 190.0,691.1 192.2,690.9 194.1,690.7 195.8,691.0 197.2,690.9 198.5,690.9 199.5,690.4 200.5,690.7 201.3,690.2 202.1,690.2 202.8,690.5 203.5,690.9 204.8,691.4 205.3,692.4 205.4,693.9 205.8,695.1 206.2,696.6 206.7,698.1 207.1,699.3 207.6,700.8 208.3,702.1 209.1,702.9 210.2,703.4 211.4,703.8 212.8,703.5 214.3,703.4 215.7,703.0 217.0,702.9 218.2,702.3 219.4,701.8 220.5,701.1 221.6,700.4 222.7,699.9 223.8,699.1 224.8,698.6 225.7,698.0 226.6,697.5 227.6,696.6 228.9,696.0 230.5,695.4 231.4,694.9 232.4,694.6 233.5,694.2 234.6,693.9 235.8,693.8 237.1,693.2 238.3,692.6 239.6,692.1 241.0,692.0 242.3,691.8 243.7,691.7 245.0,691.7 246.3,691.9 247.5,691.6 248.6,691.5 249.9,691.2 251.1,691.3 252.4,691.4 253.7,691.5 254.9,691.0 256.2,691.2 257.5,691.5 258.7,691.5 259.9,691.0 261.1,691.0 262.2,691.1 263.3,691.2 264.3,690.9 265.8,690.7 267.2,690.8 268.5,690.3 269.7,690.5 270.8,690.2 271.9,690.1 273.1,689.7 274.3,689.6 275.6,689.9 276.8,689.8 278.0,690.5 279.3,690.3 280.6,690.4 281.9,690.9 283.2,691.4 284.5,691.9 285.8,692.2 287.0,692.5 288.1,692.9 289.1,693.2 290.5,693.4 291.8,694.7 292.9,695.8 293.9,696.7 294.9,697.3 295.9,698.0 297.0,698.2 298.1,698.0 299.2,697.8 300.2,696.6 301.3,695.9 302.4,694.9 303.6,694.1 304.9,693.9 306.0,693.2 307.1,692.8 308.3,692.4 309.5,692.3 310.8,691.8 312.1,691.2 313.4,691.3 314.7,691.0 316.1,690.9 317.2,691.0 318.4,690.7 319.5,690.7 320.6,690.8 321.8,690.9 323.0,690.8 324.3,691.1 325.5,691.5 326.8,691.2 328.2,691.5 329.6,690.9 330.7,691.2 331.8,691.0 333.0,691.0 334.2,690.9 335.4,690.8 336.6,690.6 337.9,690.6 339.1,690.9 340.4,691.1 341.7,690.9 342.9,690.7 344.2,690.5 345.4,690.3 346.6,690.8 347.7,690.8 349.0,690.7 350.4,690.5 351.8,690.2 353.2,690.5 354.6,690.6 356.0,690.2 357.3,690.4 358.6,690.0 359.8,690.1 360.9,689.9 361.9,689.8 362.7,689.9 363.4,690.0" fill="none" stroke="#111" stroke-width="3.0" stroke-linejoin="round" stroke-linecap="butt"/>
<text x="25.3" y="35.5" font-size="20" text-anchor="start" fill="#111" >no light</text>
<text x="78.9" y="120.4" font-size="20" text-anchor="end" fill="#111" >0 ms</text>
<text x="78.9" y="194.2" font-size="20" text-anchor="end" fill="#111" >5 ms</text>
<text x="78.9" y="268.3" font-size="20" text-anchor="end" fill="#111" >10 ms</text>
<text x="78.9" y="352" font-size="20" text-anchor="end" fill="#111" >15 ms</text>
<text x="78.9" y="431.5" font-size="20" text-anchor="end" fill="#111" >20 ms</text>
<text x="78.9" y="521.4" font-size="20" text-anchor="end" fill="#111" >30 ms</text>
<text x="78.9" y="601" font-size="20" text-anchor="end" fill="#111" >40 ms</text>
<text x="78.9" y="682.5" font-size="20" text-anchor="end" fill="#111" >50 ms</text>
<rect x="82.8" y="113.1" width="111.5" height="5.8" fill="#808080"/>
<rect x="82.8" y="187.5" width="116.7" height="5.8" fill="#808080"/>
<rect x="82.8" y="268.8" width="122.7" height="5.8" fill="#808080"/>
<rect x="82.8" y="347.9" width="128.4" height="5.8" fill="#808080"/>
<rect x="82.8" y="429.1" width="133.9" height="5.8" fill="#808080"/>
<rect x="82.8" y="514.8" width="144.6" height="5.8" fill="#808080"/>
<rect x="82.8" y="597.5" width="156.2" height="5.8" fill="#808080"/>
<rect x="82.8" y="679.4" width="167.5" height="5.8" fill="#808080"/>
<polygon points="189.9,23.2 199.1,23.2 194.5,38.8" fill="#333"/>
<polygon points="189.9,97.0 199.1,97.0 194.5,112.5" fill="#333"/>
<polygon points="189.9,172.0 199.1,172.0 194.5,187.5" fill="#333"/>
<polygon points="189.9,252.1 199.1,252.1 194.5,267.6" fill="#333"/>
<polygon points="189.9,331.4 199.1,331.4 194.5,346.9" fill="#333"/>
<polygon points="189.9,412.0 199.1,412.0 194.5,427.5" fill="#333"/>
<polygon points="189.9,498.0 199.1,498.0 194.5,513.5" fill="#333"/>
<polygon points="189.9,580.5 199.1,580.5 194.5,596.0" fill="#333"/>
<polygon points="189.9,661.6 199.1,661.6 194.5,677.1" fill="#333"/>
<text x="338" y="53" font-size="16" text-anchor="start" fill="#111" >LFP</text>
<line x1="225.75" y1="22.9" x2="228.15" y2="728.3" stroke="#111" stroke-width="3" stroke-dasharray="6 6.12"/>
<polyline points="252.6,736.8 362.3,736.8 362.3,706" fill="none" stroke="#111" stroke-width="3.2"/>
<text x="307.6" y="715.05" font-size="16.7" text-anchor="middle" fill="#111" >0.5 mV</text>
<text x="305.8" y="733" font-size="16.7" text-anchor="middle" fill="#111" >100 ms</text>
<text x="423.5" y="19.6" font-size="27.8" text-anchor="start" fill="#111" >C</text>
<polyline points="457.5,41.4 458.1,41.2 458.9,41.5 459.7,41.6 460.5,41.4 461.5,41.4 462.5,41.2 463.6,41.1 464.7,40.9 465.8,41.0 467.0,41.1 468.3,41.4 469.6,41.4 470.9,41.4 472.2,41.2 473.6,41.1 475.0,41.0 476.4,41.0 477.8,40.6 479.2,40.9 480.6,40.6 482.0,40.6 483.4,40.8 484.7,40.7 486.1,41.1 487.4,40.9 488.7,41.2 490.0,41.2 491.2,40.9 492.4,40.9 493.6,41.1 494.9,40.8 496.1,40.8 497.4,40.6 498.7,40.6 500.0,40.6 501.3,40.6 502.7,40.8 504.0,40.9 505.3,40.8 506.6,40.7 507.9,40.8 509.2,40.6 510.5,40.3 511.8,40.6 513.1,40.3 514.3,40.5 515.5,40.2 516.7,40.6 517.9,40.2 519.0,40.4 520.1,40.6 521.2,40.2 522.2,40.4 523.2,40.1 524.1,39.7 525.0,40.0 526.9,40.0 528.5,39.7 529.8,39.1 530.9,39.1 531.9,39.0 532.8,38.8 533.7,38.6 534.6,38.1 535.7,38.1 536.9,38.4 538.3,38.5 540.0,38.1 540.9,37.9 541.9,38.0 543.0,38.1 544.1,38.1 545.2,37.8 546.4,37.8 547.6,37.8 548.9,38.1 550.2,38.2 551.5,38.1 552.8,38.2 554.1,37.9 555.4,38.2 556.8,37.9 558.1,37.9 559.4,38.0 560.7,37.8 562.0,37.6 563.3,37.4 564.5,37.6 565.7,37.7 566.8,37.7 567.9,37.8 569.0,37.4 570.0,37.6 571.6,37.7 573.1,37.6 574.6,37.7 576.0,37.9 577.4,37.5 578.7,37.2 579.9,37.0 581.1,37.0 582.3,37.1 583.5,36.9 584.5,37.1 585.6,37.0 586.6,37.3 587.6,37.6 588.6,38.0 589.7,38.8 590.8,39.2 591.8,39.8 592.7,40.6 593.5,41.6 594.3,42.2 595.0,43.4 595.8,44.3 596.5,45.5 597.2,46.8 597.9,47.8 598.7,48.8 599.4,49.8 600.1,50.2 600.8,51.6 601.5,52.9 602.1,54.0 602.8,55.0 603.4,56.0 604.1,57.2 604.7,58.7 605.3,59.7 606.0,61.1 606.6,61.6 607.3,62.7 608.0,64.0 608.6,65.2 609.3,66.1 610.0,67.3 610.7,68.9 611.4,69.8 612.0,70.9 612.7,71.9 613.4,73.1 614.0,74.4 614.7,75.6 615.3,76.1 615.9,77.4 616.9,78.5 617.8,79.5 618.7,80.8 619.6,81.6 620.5,82.0 621.4,82.8 622.2,83.5 623.0,84.2 624.0,85.4 624.9,86.9 625.7,88.2 626.6,88.9 627.6,90.3 628.8,90.2 629.7,90.2 630.7,89.9 631.8,89.6 632.9,88.9 634.0,88.4 635.2,88.0 636.4,87.1 637.6,86.0 638.8,85.3 639.8,84.5 640.8,83.8 641.8,83.2 642.8,82.4 643.9,81.5 644.9,80.9 646.0,80.0 647.0,79.0 648.1,78.5 649.2,77.8 650.3,77.5 651.6,76.8 652.9,76.4 654.2,76.0 655.6,75.0 657.0,74.6 658.3,74.4 659.6,74.7 660.9,74.2 662.0,74.5 663.1,74.7 664.5,75.0 665.7,75.8 666.6,76.5 667.6,77.3 668.8,77.9 670.3,78.0 671.2,78.0 672.1,77.6 673.1,77.1 674.2,76.7 675.3,76.5 676.4,75.7 677.6,75.1 678.8,74.6 680.0,74.1 681.1,73.5 682.3,72.4 683.5,71.9 684.6,71.3 685.5,71.0 686.4,69.9 687.3,69.2 688.2,68.7 689.1,67.9 690.0,67.3 690.9,66.5 691.8,65.2 692.7,64.5 693.6,63.4 694.5,62.4 695.4,61.9 696.3,60.9 697.2,59.9 698.1,59.2 699.0,58.4 700.1,58.0 701.2,57.3 702.4,56.9 703.5,56.1 704.6,55.3 705.8,54.9 706.9,54.1 708.0,53.5 709.1,53.0 710.2,52.5 711.3,52.2 712.3,51.5 713.3,51.1 714.5,50.4 715.7,49.5 716.8,48.7 717.8,48.2 718.9,47.8 719.9,47.3 721.0,46.8 722.2,46.3 723.4,45.6 724.8,45.3 725.9,44.7 727.0,44.2 728.2,44.0 729.4,43.6 730.6,43.4 731.9,43.2 733.2,43.0 734.5,42.9 735.8,42.5 737.1,42.3 738.4,41.9 739.6,41.8 740.8,41.5 742.0,41.4 743.3,40.5 744.6,40.3 746.0,40.1 747.3,39.3 748.6,39.1 749.9,38.9 751.1,38.6 752.3,37.9 753.4,37.8 754.4,37.5 755.4,37.0 756.3,37.0 758.0,36.5 759.1,36.2 760.0,35.9 760.9,35.9 762.2,36.0 763.1,36.3 764.1,36.6 765.0,36.8 766.0,37.2 767.2,37.7 768.5,37.8 770.0,38.0 771.8,37.8 772.7,37.6 773.8,36.8 774.9,36.7 776.2,36.5 777.5,36.1 778.9,35.5 780.3,35.3 781.7,34.7 783.1,34.0 784.5,33.4 785.9,33.0 787.2,32.3 788.5,31.8 789.7,31.8 790.7,31.6 791.7,31.3 792.5,31.0 793.2,30.7" fill="none" stroke="#111" stroke-width="3.0" stroke-linejoin="round" stroke-linecap="butt"/>
<polyline points="457.5,128.4 458.1,128.8 458.9,129.0 459.7,128.9 460.6,128.4 461.6,128.8 462.6,129.0 463.7,128.7 464.9,128.7 466.1,128.8 467.4,128.6 468.7,128.8 470.0,128.6 471.3,128.7 472.7,128.6 474.1,128.2 475.5,128.0 476.9,128.8 478.3,128.6 479.7,128.7 481.1,128.7 482.5,128.8 483.8,128.6 485.2,128.3 486.4,128.2 487.7,127.7 488.9,127.8 490.0,128.1 491.3,127.6 492.7,127.7 493.9,127.9 495.2,128.1 496.4,127.7 497.6,127.5 498.8,127.2 499.9,127.1 501.1,127.3 502.3,127.7 503.4,127.3 504.6,127.5 505.8,127.4 507.0,127.2 508.2,127.5 509.4,126.8 510.7,126.9 512.0,127.0 513.3,127.4 514.6,127.6 516.0,127.7 517.5,127.4 518.6,127.5 519.7,127.6 520.8,127.5 522.0,127.4 523.2,127.3 524.5,127.2 525.7,127.0 527.0,127.6 528.3,127.5 529.6,127.1 531.0,127.4 532.3,127.6 533.7,127.7 535.0,128.2 536.4,128.1 537.7,128.0 539.0,128.0 540.4,128.1 541.7,128.1 542.9,128.3 544.2,129.0 545.5,128.9 546.7,128.6 547.9,129.1 549.0,129.1 550.1,129.2 551.2,129.2 552.2,129.2 553.2,129.3 554.1,129.4 555.0,129.5 557.0,129.6 558.8,129.3 560.3,129.2 561.6,128.9 562.8,129.1 563.8,129.2 564.8,128.9 565.7,128.9 566.7,129.3 567.7,129.3 568.8,128.7 570.0,128.6 571.2,128.7 572.5,128.5 573.9,128.4 575.2,128.5 576.6,128.3 578.0,127.8 579.4,127.9 580.7,127.7 582.0,127.7 583.2,127.6 584.3,127.5 585.4,127.6 586.3,128.1 587.4,128.7 588.3,129.2 589.0,130.8 589.7,131.8 590.3,133.0 590.8,134.5 591.3,135.3 591.8,136.9 592.3,137.7 592.9,138.7 594.1,139.7 595.1,140.3 596.2,140.7 597.4,141.2 598.7,141.7 599.4,142.3 600.2,143.3 601.1,144.6 601.9,145.4 602.8,146.5 603.7,147.5 604.6,148.7 605.5,149.8 606.4,150.5 607.3,151.6 608.2,152.6 609.1,153.6 610.0,154.6 610.9,155.6 611.8,156.6 612.7,157.6 613.5,159.3 614.4,160.5 615.2,161.1 615.9,161.9 617.2,162.6 618.4,162.6 619.5,162.9 620.5,163.8 621.6,165.1 622.3,165.9 623.0,166.7 623.7,167.9 624.4,168.9 625.2,170.0 625.9,171.3 626.6,172.4 627.3,173.3 628.3,174.4 629.2,175.3 630.2,176.4 631.2,177.6 632.1,178.2 633.1,179.3 634.2,179.5 635.4,180.2 636.5,180.5 637.7,180.9 638.8,181.0 639.9,180.9 640.9,180.5 642.0,179.5 643.2,178.2 644.5,177.2 645.3,176.7 646.2,175.9 647.1,175.4 648.0,174.9 649.0,173.6 650.0,172.8 651.0,172.1 652.1,170.8 653.1,170.1 654.0,169.3 655.0,168.2 656.0,167.6 657.1,166.6 658.1,165.6 659.1,164.8 660.2,164.0 661.2,163.4 662.2,162.8 663.1,162.4 664.4,161.9 665.7,162.1 667.0,162.6 668.2,162.7 669.4,163.9 670.6,164.3 671.7,164.3 672.9,164.2 673.8,164.6 674.8,164.8 675.8,164.5 677.1,163.9 678.9,162.7 679.6,162.2 680.3,161.7 681.1,161.0 681.9,160.5 682.7,159.6 683.6,158.8 684.5,157.9 685.4,157.2 686.4,156.2 687.4,155.1 688.3,154.0 689.3,152.8 690.3,151.9 691.3,151.1 692.3,150.3 693.3,149.3 694.2,148.3 695.2,147.5 696.1,147.1 697.3,146.7 698.5,146.1 699.7,145.2 700.9,144.8 702.2,144.4 703.4,143.9 704.6,143.6 705.8,143.3 707.0,142.8 708.2,142.4 709.3,142.4 710.4,142.3 711.4,141.8 712.4,141.5 713.3,141.5 714.9,141.3 716.1,141.0 717.1,141.4 718.1,141.2 719.1,140.9 720.3,140.8 721.9,140.1 722.7,139.8 723.7,139.3 724.6,138.5 725.7,137.8 726.7,137.3 727.8,137.0 729.0,136.0 730.1,135.6 731.3,134.8 732.5,133.8 733.7,133.2 734.8,132.6 735.9,131.7 737.0,130.7 738.1,130.4 739.1,129.8 740.4,129.4 741.7,128.4 742.9,128.1 744.2,127.5 745.4,126.9 746.6,126.5 747.8,126.3 748.9,125.8 750.1,125.2 751.2,125.0 752.3,124.3 753.4,124.2 754.6,123.8 755.8,123.7 756.9,123.3 757.9,122.7 759.0,122.3 760.0,121.8 761.1,121.0 762.3,121.0 763.5,120.6 764.9,120.1 766.0,119.5 767.1,119.6 768.3,119.3 769.6,118.7 770.9,118.6 772.2,118.6 773.5,118.1 774.8,117.8 776.1,117.3 777.4,116.9 778.7,116.8 779.9,117.0 781.0,116.4 782.1,115.9 783.5,115.5 784.9,114.8 786.3,114.3 787.7,113.9 788.9,113.0 790.1,112.3 791.2,111.9 792.1,111.6 792.9,111.3 793.6,111.2" fill="none" stroke="#111" stroke-width="3.0" stroke-linejoin="round" stroke-linecap="butt"/>
<polyline points="457.5,225.5 458.2,225.7 458.9,225.7 459.7,225.8 460.7,226.0 461.7,225.9 462.7,226.0 463.9,225.9 465.1,226.2 466.3,226.2 467.6,226.3 469.0,226.6 470.3,226.6 471.7,227.0 473.1,226.9 474.6,227.2 476.0,227.3 477.5,227.2 479.0,227.3 480.4,227.3 481.8,227.4 483.2,227.5 484.6,228.0 486.0,227.9 487.3,228.3 488.6,228.3 489.8,228.0 491.0,227.6 492.1,228.0 493.1,227.7 494.1,228.1 495.0,228.4 497.0,228.4 498.7,228.2 500.0,228.1 501.2,228.0 502.2,227.8 503.1,227.5 504.0,227.3 504.9,227.3 505.9,226.9 507.0,226.8 508.4,226.3 510.0,226.0 510.9,225.7 511.9,225.7 513.0,225.9 514.1,225.8 515.2,225.6 516.3,225.6 517.5,225.3 518.7,225.3 520.0,225.1 521.2,225.1 522.5,224.4 523.8,224.1 525.0,224.4 526.3,224.2 527.6,224.6 528.9,224.2 530.2,223.8 531.5,224.0 532.7,223.8 533.9,223.9 535.2,223.7 536.3,223.3 537.5,223.2 538.8,222.8 540.2,222.6 541.6,222.3 542.9,222.2 544.3,222.3 545.7,222.0 547.1,221.9 548.5,221.6 549.9,221.6 551.2,220.9 552.6,220.9 553.9,220.9 555.1,220.6 556.4,220.8 557.5,220.6 558.7,220.7 559.7,220.7 560.7,220.5 561.6,220.2 562.5,219.9 564.7,219.7 566.0,219.5 566.8,219.6 567.5,219.5 568.5,220.1 570.0,219.4 571.0,219.5 572.1,219.1 573.3,218.9 574.5,218.8 575.9,218.5 577.2,218.0 578.6,217.9 580.0,217.7 581.3,217.2 582.6,217.3 583.8,217.2 584.8,217.3 585.8,217.8 587.0,218.5 588.0,219.3 588.9,220.8 589.6,221.9 590.3,222.9 591.0,224.2 591.6,225.3 592.2,225.9 592.9,226.6 594.1,227.4 595.2,228.4 596.2,228.6 597.4,228.8 598.7,229.3 599.6,230.1 600.7,230.7 601.7,231.7 602.8,232.4 604.0,233.4 605.1,233.9 606.2,234.6 607.3,235.1 608.4,235.8 609.4,236.1 610.5,236.7 611.6,237.3 612.7,238.0 613.7,239.0 614.8,239.7 615.9,240.6 617.0,241.3 618.1,242.1 619.2,242.9 620.3,243.4 621.4,244.3 622.5,244.9 623.5,245.6 624.5,246.8 625.5,248.1 626.4,248.6 627.3,250.0 628.1,251.0 629.0,251.7 629.9,252.8 630.7,253.8 631.6,254.7 632.6,255.6 633.6,256.3 634.7,257.3 635.7,258.4 636.7,259.3 637.8,260.0 638.8,260.6 640.0,260.8 641.2,261.2 642.4,261.6 643.6,261.9 644.8,261.9 646.0,261.7 647.0,261.3 648.0,261.1 649.0,259.8 650.0,259.1 651.0,258.8 652.0,257.8 653.1,256.4 654.0,255.8 654.9,254.7 655.8,253.8 656.7,253.1 657.7,252.5 658.7,251.6 659.7,250.9 660.7,250.3 661.7,249.7 662.9,249.2 664.2,249.1 665.5,249.3 666.8,249.5 668.1,249.6 669.4,249.8 670.6,249.7 671.7,249.6 672.9,249.5 673.9,249.1 674.9,248.7 675.9,248.4 677.2,247.6 678.9,246.7 679.8,246.1 680.7,245.5 681.7,245.3 682.8,244.7 683.9,244.5 685.1,243.8 686.3,243.4 687.5,242.9 688.7,242.7 690.0,242.0 691.3,241.4 692.5,240.9 693.7,240.4 694.9,240.2 696.1,239.5 697.2,238.9 698.4,238.3 699.5,237.9 700.7,237.4 701.8,236.9 703.0,236.0 704.1,236.0 705.3,235.7 706.4,234.9 707.6,234.0 708.7,233.5 709.9,233.1 711.0,232.2 712.2,231.9 713.3,231.3 714.5,231.1 715.8,231.1 717.1,230.8 718.4,230.0 719.7,229.9 721.0,229.7 722.3,229.1 723.5,228.9 724.8,228.8 726.0,228.3 727.2,227.9 728.3,227.5 729.4,227.5 730.5,226.8 732.0,226.9 733.2,226.3 734.3,226.3 735.4,225.8 736.4,225.5 737.5,225.4 738.8,225.5 740.3,225.0 742.0,225.0 743.0,224.8 744.0,225.0 745.2,224.8 746.4,224.7 747.7,224.5 749.0,224.7 750.3,224.4 751.7,224.2 753.1,224.4 754.5,224.1 755.9,224.0 757.2,223.7 758.6,223.6 759.8,223.0 761.0,223.1 762.1,223.0 763.2,222.8 764.1,222.6 764.9,223.0 767.4,223.3 768.5,223.3 769.2,224.1 770.6,223.7 771.5,223.3 772.5,223.0 773.6,222.3 774.8,221.5 776.0,220.9 777.2,220.7 778.5,220.3 779.7,219.3 780.9,219.1 782.1,218.6 783.4,218.2 784.9,217.7 786.4,217.4 787.8,216.8 789.3,216.3 790.6,216.0 791.8,215.8 792.8,215.8 793.6,215.4" fill="none" stroke="#111" stroke-width="3.0" stroke-linejoin="round" stroke-linecap="butt"/>
<polyline points="457.5,311.6 458.1,311.3 458.9,311.2 459.6,311.4 460.5,311.5 461.3,311.3 462.3,311.2 463.3,311.1 464.3,310.9 465.4,311.4 466.6,311.6 467.7,311.9 468.9,311.9 470.2,311.8 471.5,311.8 472.8,311.9 474.1,311.8 475.4,311.8 476.8,312.2 478.2,311.6 479.6,311.4 481.0,311.4 482.4,311.8 483.9,312.0 485.3,311.9 486.7,312.1 488.1,312.0 489.6,312.1 491.0,312.0 492.4,312.0 493.7,312.1 495.1,312.4 496.5,312.7 497.8,312.2 499.1,312.3 500.3,312.4 501.5,312.6 502.7,312.7 503.9,312.8 505.0,312.8 506.4,312.6 507.7,312.3 509.1,312.8 510.4,313.1 511.7,312.9 513.0,313.2 514.3,313.3 515.6,312.8 516.9,313.2 518.2,313.1 519.5,313.5 520.7,313.5 521.9,313.4 523.2,313.3 524.4,313.6 525.6,314.0 526.8,313.9 528.0,313.7 529.2,314.4 530.3,314.8 531.5,314.8 532.6,314.6 533.8,314.4 534.9,314.2 536.0,314.6 537.1,314.9 538.2,314.7 539.3,314.8 540.4,314.8 541.4,314.9 542.5,315.0 544.0,315.5 545.4,315.2 546.9,315.3 548.3,315.4 549.7,315.2 551.0,315.1 552.4,314.8 553.7,315.1 555.0,315.0 556.3,314.8 557.6,314.9 558.9,314.7 560.1,314.5 561.3,314.6 562.5,314.9 563.6,314.8 564.7,314.8 565.8,314.4 566.9,314.1 568.0,314.6 569.0,314.4 570.0,314.1 571.6,314.1 573.2,314.1 574.6,313.6 576.0,313.3 577.3,313.3 578.6,313.0 579.8,313.0 580.9,313.0 582.0,312.9 583.0,312.6 584.0,312.6 584.9,312.6 585.8,312.8 587.1,313.5 588.2,314.2 589.0,315.5 589.8,317.1 590.5,317.9 591.2,319.1 592.0,320.3 592.9,321.3 593.9,322.0 594.9,322.7 595.9,323.8 596.9,324.6 598.0,325.4 599.1,325.9 600.3,326.7 601.5,327.5 602.5,327.9 603.6,328.5 604.7,329.3 605.9,329.2 607.1,329.7 608.3,329.9 609.5,330.1 610.7,330.6 611.8,331.2 613.0,331.6 614.3,331.7 615.6,331.9 616.9,332.2 618.3,332.7 619.6,332.8 620.9,332.9 622.1,333.8 623.3,333.9 624.5,334.3 625.7,334.7 626.8,335.2 627.8,335.8 628.8,336.4 629.8,337.2 630.8,337.6 631.9,338.1 633.1,339.5 634.0,340.0 635.0,340.8 636.1,341.7 637.2,342.5 638.3,343.2 639.3,343.6 640.4,344.2 641.5,345.4 642.6,346.2 643.6,346.9 644.5,347.1 645.9,347.5 647.2,348.1 648.4,348.6 649.6,349.3 650.7,349.5 651.9,350.2 653.1,350.1 654.3,350.1 655.5,350.3 656.6,350.2 657.8,349.7 659.0,349.6 660.3,349.6 661.7,348.8 662.7,348.4 663.8,347.9 664.8,347.2 666.0,347.1 667.1,346.8 668.3,346.5 669.5,346.0 670.7,345.1 671.9,344.7 673.2,344.3 674.3,343.8 675.5,343.5 676.6,343.6 677.9,343.3 679.1,343.5 680.4,343.2 681.6,342.4 682.8,342.4 684.1,342.3 685.2,341.9 686.4,341.2 687.5,341.3 688.6,340.4 689.7,340.0 690.8,339.1 691.8,338.5 692.8,337.8 693.7,337.7 694.7,337.4 695.7,336.5 696.8,335.6 697.9,335.0 699.0,334.4 699.9,333.5 700.9,332.7 701.9,332.2 702.9,331.6 703.9,330.9 704.9,330.2 706.0,329.1 707.0,327.9 708.1,327.5 709.1,326.7 710.2,326.1 711.2,325.4 712.3,325.0 713.3,324.2 714.5,324.0 715.7,323.4 716.9,323.0 718.1,322.6 719.3,322.3 720.4,321.8 721.6,321.0 722.8,320.6 724.0,320.8 725.2,320.4 726.4,320.1 727.6,319.7 728.8,319.1 730.0,318.7 731.2,318.3 732.4,318.2 733.6,317.9 734.8,317.9 736.0,317.5 737.2,317.4 738.4,317.0 739.6,316.3 740.8,316.4 742.0,316.1 743.2,315.9 744.4,315.5 745.6,315.1 746.8,314.9 748.0,314.4 749.2,314.0 750.3,313.7 751.5,313.6 752.7,313.3 753.9,313.4 755.1,313.5 756.3,313.9 757.5,314.1 758.7,313.9 759.9,314.1 761.2,314.1 762.4,314.4 763.6,314.5 764.8,314.6 766.0,314.9 767.2,314.8 768.4,315.1 769.5,315.1 770.6,314.9 771.9,314.8 773.1,314.8 774.3,314.3 775.4,314.1 776.5,313.8 777.6,313.6 778.7,312.8 779.8,312.3 781.0,312.0 782.1,311.8 783.3,311.4 784.6,311.0 785.9,310.1 787.3,309.7 788.6,309.6 789.8,309.1 791.0,309.1 792.0,308.4 792.9,308.0 793.6,307.5" fill="none" stroke="#111" stroke-width="3.0" stroke-linejoin="round" stroke-linecap="butt"/>
<polyline points="457.5,407.6 458.1,407.7 458.9,408.1 459.7,408.0 460.5,407.9 461.4,407.6 462.4,407.8 463.5,408.1 464.6,408.3 465.7,408.6 466.9,408.7 468.1,408.6 469.4,408.8 470.7,408.8 472.0,408.6 473.4,409.1 474.8,409.2 476.2,409.0 477.6,409.3 479.0,409.4 480.5,409.7 481.9,410.0 483.4,409.4 484.8,409.8 486.3,410.2 487.7,410.0 489.1,409.8 490.6,410.2 492.0,410.4 493.3,410.6 494.7,410.4 496.0,410.5 497.3,410.7 498.5,411.0 499.7,411.5 500.9,411.4 502.0,411.2 503.0,410.7 504.1,411.2 505.0,411.2 506.8,411.3 508.4,411.1 510.0,411.4 511.6,411.0 513.1,411.2 514.5,411.3 515.9,411.4 517.2,411.6 518.4,411.4 519.6,411.3 520.7,411.3 521.8,410.8 522.9,410.8 523.9,410.8 524.8,410.9 525.7,410.6 526.6,410.7 527.4,410.6 528.2,410.2 529.0,409.9 530.9,409.3 531.3,408.9 531.4,408.3 532.2,407.9 535.0,407.7 535.8,407.5 536.6,407.7 537.5,407.7 538.5,407.7 539.6,407.7 540.7,407.3 541.9,407.5 543.1,407.3 544.4,407.2 545.7,407.3 547.0,407.5 548.4,407.6 549.8,407.6 551.2,407.5 552.6,407.7 554.0,407.6 555.4,407.5 556.8,407.8 558.2,408.2 559.6,408.1 560.9,407.9 562.2,408.3 563.5,408.7 564.7,408.5 565.9,408.4 567.0,408.5 568.1,409.1 569.1,408.8 570.0,408.9 571.9,408.9 573.6,408.4 575.2,408.4 576.7,408.3 578.1,408.7 579.3,408.8 580.5,409.3 581.5,409.1 582.5,409.2 583.4,409.2 584.3,409.3 585.1,409.8 585.8,409.7 587.9,410.1 588.6,411.3 589.1,411.7 589.5,412.8 590.0,413.8 590.6,415.1 591.1,416.3 591.7,417.5 592.3,418.5 592.9,419.7 593.9,420.5 595.0,421.2 596.1,422.0 597.3,422.3 598.7,422.7 599.8,423.1 600.9,423.4 602.0,423.9 603.3,423.5 604.6,424.1 605.9,424.0 607.3,423.5 608.4,423.3 609.6,422.9 610.8,422.8 612.0,422.3 613.3,421.9 614.6,421.7 615.9,421.5 617.3,420.9 618.7,420.6 619.8,420.4 621.0,420.2 622.2,420.0 623.4,419.6 624.6,419.6 625.9,418.9 627.2,418.6 628.4,418.5 629.6,418.3 630.8,418.0 632.0,417.9 633.1,417.9 634.5,418.2 635.8,418.0 637.1,418.0 638.4,418.2 639.6,418.2 640.8,418.1 642.0,418.6 643.2,418.9 644.5,419.2 645.6,419.8 646.7,420.2 647.8,420.6 648.8,420.8 649.9,421.2 651.0,422.1 652.1,422.9 653.3,423.7 654.6,424.4 656.0,425.0 657.0,425.3 658.0,425.7 659.1,426.5 660.2,427.0 661.3,427.9 662.5,428.3 663.6,428.8 664.8,429.6 666.0,430.0 667.3,431.2 668.5,431.5 669.7,432.1 670.9,432.5 672.0,432.7 673.2,432.7 674.4,432.7 675.7,433.3 676.9,433.6 678.1,434.0 679.3,433.3 680.6,433.3 681.8,433.1 683.0,433.0 684.3,432.6 685.5,432.5 686.7,432.3 687.9,432.1 689.2,432.0 690.4,431.6 691.6,431.6 692.9,431.1 694.1,431.2 695.3,430.3 696.5,430.2 697.8,429.9 699.0,429.8 700.2,429.8 701.5,429.7 702.7,429.3 703.9,429.3 705.1,428.6 706.4,428.1 707.6,428.2 708.7,427.9 709.9,427.0 711.0,426.9 712.2,426.3 713.3,426.3 714.5,426.1 715.6,425.4 716.8,425.2 717.9,424.5 719.1,424.3 720.2,423.9 721.4,423.4 722.5,422.7 723.7,422.4 724.8,421.7 726.0,421.6 727.2,421.1 728.3,421.3 729.4,420.8 730.5,420.1 731.6,420.3 732.7,420.2 733.8,419.9 735.0,420.1 736.3,419.9 737.6,419.5 738.9,419.1 740.4,418.4 742.0,418.6 743.0,418.8 744.1,418.6 745.2,418.3 746.4,418.4 747.6,418.1 748.8,418.3 750.0,418.5 751.3,418.8 752.6,418.7 753.9,418.7 755.3,418.7 756.6,418.9 757.9,418.7 759.3,418.3 760.6,418.2 761.9,418.1 763.3,418.1 764.5,418.2 765.8,418.3 767.1,418.3 768.3,418.2 769.5,418.1 770.6,418.0 772.0,418.0 773.4,417.9 774.8,417.8 776.2,417.3 777.6,416.9 779.1,416.9 780.5,416.4 781.9,416.1 783.2,415.6 784.5,415.4 785.8,414.9 787.1,414.3 788.2,414.1 789.3,413.8 790.4,413.7 791.3,413.3 792.2,413.2 792.9,412.9 793.6,412.8" fill="none" stroke="#111" stroke-width="3.0" stroke-linejoin="round" stroke-linecap="butt"/>
<polyline points="458.5,501.9 459.1,502.1 459.9,501.7 460.6,501.7 461.5,501.6 462.3,501.7 463.3,501.7 464.3,501.7 465.3,501.5 466.4,501.3 467.5,501.1 468.6,501.1 469.8,501.0 471.1,501.1 472.3,501.1 473.6,501.2 474.9,501.0 476.3,500.7 477.6,500.4 479.0,500.5 480.4,500.5 481.8,500.8 483.2,500.6 484.6,500.7 486.1,500.8 487.5,500.2 488.9,500.3 490.3,500.3 491.8,500.3 493.2,499.9 494.6,499.9 496.0,499.6 497.3,499.5 498.7,499.4 500.0,499.6 501.3,499.4 502.6,499.4 503.9,499.2 505.1,498.9 506.3,499.0 507.6,499.0 508.9,498.8 510.2,498.9 511.5,498.6 512.8,498.4 514.1,498.5 515.4,498.5 516.7,498.3 518.0,498.0 519.3,498.2 520.7,498.3 522.0,498.2 523.3,498.3 524.6,497.9 526.0,498.1 527.3,498.2 528.6,498.2 529.9,498.0 531.1,498.0 532.4,498.0 533.7,498.2 534.9,498.1 536.1,498.1 537.3,497.8 538.5,498.0 539.7,498.1 540.9,497.9 542.0,497.9 543.1,497.9 544.2,497.8 545.2,497.4 546.2,497.9 547.2,497.4 548.2,497.5 549.1,497.4 550.0,497.7 551.9,497.4 553.7,497.4 555.4,497.4 556.8,497.4 558.2,497.2 559.5,497.3 560.7,497.2 561.8,497.3 562.9,497.0 563.9,496.9 564.9,496.8 565.9,496.6 566.9,496.7 567.9,496.7 568.9,496.9 570.0,496.6 571.4,496.5 572.8,496.5 574.2,496.1 575.5,495.8 576.9,495.6 578.2,495.2 579.5,494.8 580.8,494.9 581.9,494.7 583.0,494.5 584.0,494.2 585.0,494.3 585.8,494.7 587.4,494.8 588.3,495.5 588.9,496.9 589.4,498.4 590.1,499.9 590.6,500.5 591.1,501.5 591.7,502.4 592.2,503.6 592.7,504.7 593.2,505.9 593.8,507.3 594.4,508.2 595.2,509.2 596.0,510.2 596.8,511.3 597.7,512.1 598.5,513.2 599.3,514.3 600.1,515.5 600.9,516.1 601.6,517.3 602.3,518.5 603.0,520.0 603.7,521.4 604.4,521.7 605.4,521.3 606.5,520.5 607.5,518.5 608.7,517.2 609.6,515.8 610.4,515.3 611.4,514.4 612.3,513.5 613.3,512.6 614.4,511.5 615.2,511.0 616.1,510.1 616.9,509.3 617.8,508.8 618.7,507.6 619.7,506.9 620.6,505.8 621.6,505.4 622.7,504.7 623.8,504.0 624.9,503.5 626.0,503.2 627.3,502.8 628.7,502.1 630.2,501.6 631.2,501.5 632.2,500.8 633.3,500.5 634.4,500.5 635.6,500.4 636.8,500.5 638.0,500.5 639.3,500.1 640.6,499.9 641.9,499.4 643.2,499.3 644.5,499.4 645.7,499.4 646.9,499.4 648.1,499.6 649.4,499.5 650.7,499.5 652.0,499.4 653.3,500.0 654.6,499.9 655.9,499.9 657.1,500.4 658.3,500.6 659.5,501.1 660.6,501.2 661.7,501.8 663.1,502.2 664.4,502.5 665.6,502.9 666.7,503.3 667.8,504.0 668.9,504.9 669.9,505.1 671.0,505.2 672.1,505.8 673.2,506.2 674.5,506.0 675.7,506.0 676.9,505.9 678.1,506.1 679.3,506.1 680.6,505.8 681.9,505.6 683.2,505.9 684.6,505.6 685.7,506.1 686.9,506.3 688.1,507.0 689.3,507.3 690.5,507.3 691.8,507.6 693.1,507.8 694.3,508.0 695.5,508.5 696.7,509.0 697.9,508.9 699.0,509.2 700.4,509.9 701.7,510.4 703.0,510.5 704.3,510.7 705.5,510.9 706.7,511.0 707.9,511.6 709.1,511.7 710.4,511.6 711.5,511.2 712.6,511.0 713.6,510.7 714.6,510.8 715.6,510.1 716.7,509.7 717.8,509.4 719.0,509.0 720.4,508.4 721.9,507.6 722.9,507.9 724.0,507.8 725.2,507.5 726.4,507.4 727.6,507.0 728.9,506.8 730.3,506.5 731.6,506.7 732.9,506.8 734.3,506.7 735.6,506.7 737.0,506.6 738.3,506.5 739.6,506.1 740.8,506.2 742.0,506.3 743.3,506.1 744.7,506.1 746.0,505.7 747.3,505.3 748.6,505.4 749.9,505.0 751.1,504.9 752.4,504.8 753.6,504.6 754.8,504.5 756.0,504.3 757.1,504.0 758.2,504.6 759.2,504.6 760.7,504.4 762.1,504.7 763.4,505.1 764.7,505.6 765.8,505.8 767.0,506.8 768.2,507.7 769.4,507.9 770.6,508.2 771.9,508.2 773.1,507.8 774.4,508.0 775.7,507.3 777.0,507.1 778.3,506.8 779.5,506.8 780.8,506.4 782.1,506.0 783.3,505.5 784.6,505.2 785.9,504.8 787.3,504.6 788.6,504.3 789.8,503.9 791.0,503.3 792.0,502.8 792.9,502.8 793.6,502.4" fill="none" stroke="#111" stroke-width="3.0" stroke-linejoin="round" stroke-linecap="butt"/>
<polyline points="458.5,577.2 459.1,577.6 459.8,577.8 460.6,577.7 461.4,577.5 462.2,577.3 463.1,577.6 464.1,577.5 465.1,577.7 466.1,577.5 467.2,577.6 468.3,577.7 469.4,577.8 470.6,577.8 471.8,577.9 473.1,577.7 474.3,577.6 475.6,577.8 477.0,578.3 478.3,578.2 479.7,578.0 481.1,578.0 482.5,578.2 483.9,578.5 485.3,578.4 486.7,578.6 488.2,578.6 489.6,578.6 491.0,578.5 492.5,578.6 493.9,578.6 495.4,578.8 496.8,578.6 498.2,579.0 499.6,579.2 501.0,579.3 502.4,579.5 503.8,579.5 505.1,579.1 506.5,579.2 507.8,579.4 509.1,579.3 510.3,579.1 511.6,579.4 512.8,579.5 513.9,579.4 515.1,579.4 516.1,579.4 517.2,579.4 518.2,579.5 519.2,579.7 520.1,579.4 522.0,579.4 523.7,579.8 525.4,579.8 527.0,579.7 528.6,579.7 530.0,579.4 531.4,579.1 532.8,578.8 534.1,578.7 535.3,578.9 536.5,579.1 537.7,578.9 538.8,578.7 539.8,578.7 540.9,578.7 541.9,578.6 543.0,578.1 544.0,578.0 545.0,577.6 546.0,577.8 547.0,577.7 548.0,577.6 549.0,578.0 550.0,578.1 551.5,578.0 553.0,577.8 554.4,577.7 555.8,577.4 557.1,577.3 558.4,577.6 559.7,577.2 560.9,577.0 562.1,577.0 563.2,577.1 564.4,577.1 565.5,576.7 566.7,576.7 567.8,576.6 568.9,576.3 570.0,576.4 571.4,576.2 572.8,576.4 574.2,576.2 575.5,575.9 576.9,575.8 578.2,575.5 579.5,575.3 580.8,575.2 581.9,575.4 583.0,575.3 584.0,575.0 585.0,575.1 585.8,575.6 587.2,576.6 588.1,577.0 588.7,577.9 589.1,579.0 589.5,580.2 590.1,582.1 590.5,583.1 590.8,584.2 591.2,585.8 591.5,586.7 591.9,588.1 592.2,589.4 592.6,590.5 593.0,591.6 593.3,593.3 593.7,594.6 594.0,595.7 594.4,596.5 594.8,598.0 595.2,599.3 595.6,600.9 596.1,602.1 596.5,603.2 596.9,604.2 597.3,605.1 597.8,606.0 598.2,607.1 598.7,608.1 599.3,609.3 600.0,610.5 600.6,611.4 601.3,612.2 602.0,613.2 602.7,614.4 603.5,614.9 604.4,615.9 605.2,616.8 606.1,617.7 607.1,618.5 608.0,619.2 609.0,620.0 610.0,621.1 611.0,622.1 612.0,622.4 613.0,622.7 614.0,623.9 615.0,624.7 616.1,625.7 617.1,626.4 618.2,627.6 619.2,628.5 620.1,629.1 620.9,629.9 621.6,630.6 622.9,630.6 623.6,629.4 624.5,626.9 624.9,626.2 625.2,625.1 625.6,624.3 626.1,623.2 626.5,622.0 626.9,620.8 627.4,619.3 627.8,618.1 628.3,617.0 628.8,615.3 629.1,614.4 629.5,612.9 629.8,612.1 630.2,611.2 630.5,609.7 630.9,608.9 631.3,607.6 631.7,605.9 632.0,604.5 632.4,603.7 632.8,602.4 633.2,601.5 633.7,600.0 634.1,598.9 634.5,598.1 635.0,596.7 635.5,595.7 636.0,594.3 636.6,593.2 637.1,592.1 637.6,591.3 638.2,589.7 638.8,588.7 639.3,587.8 639.9,586.4 640.5,585.5 641.1,585.0 641.7,584.2 642.6,582.2 643.6,581.3 644.6,580.0 645.6,579.4 646.6,578.6 647.6,577.9 648.6,577.2 649.5,576.8 650.3,576.3 651.5,575.7 652.3,575.9 653.4,576.3 656.0,576.3 656.8,576.6 657.7,576.2 658.8,576.4 659.9,576.3 661.1,576.7 662.3,576.4 663.7,576.3 665.0,576.0 666.4,576.5 667.8,576.5 669.2,576.2 670.6,576.2 671.9,576.0 673.2,576.5 674.5,576.5 675.7,576.0 676.9,576.3 677.9,576.5 678.9,576.6 680.6,576.8 681.9,577.0 682.9,577.3 683.9,577.7 684.7,577.9 685.7,578.3 686.9,578.7 688.4,579.1 690.4,579.3 691.3,579.3 692.3,579.5 693.3,579.9 694.4,579.5 695.5,579.7 696.6,580.2 697.8,580.4 699.1,580.3 700.3,580.7 701.6,580.5 703.0,580.5 704.3,581.0 705.6,581.0 707.0,581.0 708.4,580.8 709.7,580.9 711.1,580.9 712.5,581.2 713.8,581.1 715.1,581.7 716.5,581.8 717.7,581.9 719.0,582.0 720.2,582.4 721.4,582.8 722.7,582.8 723.9,583.3 725.2,583.7 726.5,583.9 727.8,583.9 729.1,583.7 730.4,584.1 731.7,584.2 733.0,584.5 734.2,584.4 735.5,584.7 736.8,585.1 738.0,585.1 739.2,585.5 740.4,586.1 741.5,586.1 742.7,586.1 743.7,586.7 744.8,586.1 745.8,586.1 746.8,586.4 747.7,586.3 749.4,585.9 750.9,586.1 752.3,586.1 753.5,585.6 754.7,585.6 755.7,585.2 756.8,584.9 757.8,584.1 758.8,583.8 759.8,583.8 760.9,583.8 762.0,583.7 763.2,583.4 764.4,583.3 765.5,583.1 766.7,583.5 767.9,583.4 769.0,583.6 770.2,583.3 771.4,583.4 772.6,584.1 773.8,584.2 775.1,584.3 776.4,583.8 777.6,583.9 778.9,584.3 780.2,583.8 781.6,583.3 783.0,583.3 784.5,583.2 785.9,583.1 787.3,582.7 788.6,582.4 789.9,582.2 791.0,582.4 792.0,582.3 792.9,582.4 793.6,582.0" fill="none" stroke="#111" stroke-width="3.0" stroke-linejoin="round" stroke-linecap="butt"/>
<polyline points="458.5,670.4 459.1,670.3 459.8,670.3 460.6,670.5 461.3,670.5 462.2,670.3 463.1,670.0 464.0,670.2 465.0,670.4 466.0,670.3 467.1,670.3 468.2,670.0 469.3,669.9 470.5,670.2 471.8,670.6 473.1,670.5 474.4,670.2 475.7,670.3 477.1,670.1 478.6,670.3 480.0,670.9 481.5,670.9 483.1,670.8 484.6,671.1 486.2,671.0 487.9,671.1 489.5,671.2 491.2,671.3 492.2,671.1 493.1,671.4 494.2,671.6 495.2,671.1 496.3,670.9 497.4,671.1 498.6,671.8 499.8,671.9 501.0,672.1 502.2,672.3 503.4,672.5 504.7,672.4 506.0,672.4 507.3,672.6 508.6,672.9 509.9,673.0 511.3,673.2 512.6,673.1 514.0,673.5 515.3,673.6 516.7,673.9 518.1,673.3 519.4,673.8 520.8,673.5 522.2,673.9 523.6,674.0 524.9,674.2 526.3,674.3 527.6,674.5 529.0,674.7 530.3,674.9 531.6,674.9 532.9,674.5 534.2,674.7 535.4,675.2 536.7,675.2 537.9,675.5 539.1,675.5 540.3,675.5 541.4,675.9 542.5,676.3 543.6,676.2 544.7,676.1 545.7,676.3 546.7,676.0 547.6,676.0 548.5,676.3 549.4,676.5 550.2,676.3 552.5,676.2 554.6,676.3 556.4,675.9 558.0,675.8 559.4,675.6 560.7,675.0 561.8,675.1 562.8,675.1 563.7,675.0 564.6,674.3 565.4,673.8 566.2,673.5 567.1,673.1 568.0,673.5 568.9,673.0 570.0,672.9 571.4,672.8 572.8,672.7 574.2,672.8 575.5,672.3 576.9,672.4 578.2,672.2 579.5,671.8 580.7,671.8 581.9,671.5 583.0,672.0 584.0,671.8 585.0,672.1 585.8,672.5 587.4,672.7 588.3,673.2 588.8,674.3 589.3,675.4 590.1,677.3 590.6,678.3 591.1,679.1 591.6,680.1 592.1,681.5 592.6,682.5 593.1,684.2 593.7,685.2 594.2,686.5 594.7,687.6 595.3,689.3 595.8,690.5 596.4,691.8 596.9,693.0 597.5,694.0 598.1,695.5 598.6,696.6 599.2,697.6 599.8,698.7 600.4,699.8 600.9,700.8 601.5,701.7 602.2,702.5 602.9,704.2 603.5,705.0 604.2,705.7 604.9,706.8 605.7,708.4 606.4,709.5 607.3,710.3 608.1,711.1 609.1,711.9 610.0,712.3 611.0,713.2 612.0,714.1 613.1,715.2 614.0,715.6 615.0,716.0 615.9,716.8 616.8,718.1 617.8,719.3 618.6,720.5 619.5,721.6 620.3,722.6 621.2,723.3 622.0,724.5 622.8,725.4 623.9,726.5 624.9,727.6 625.9,728.0 626.9,728.3 627.9,728.7 628.9,729.9 630.1,730.0 631.4,730.2 632.6,730.2 633.8,730.2 635.0,730.7 636.4,730.3 637.8,730.1 639.1,729.8 640.3,729.4 641.1,728.9 641.8,727.8 642.5,727.1 643.1,726.1 643.8,724.8 644.3,723.6 644.8,722.5 645.3,721.0 645.8,720.0 646.3,718.5 646.8,717.1 647.3,715.9 647.6,714.6 647.9,713.4 648.2,712.5 648.4,711.6 648.7,709.9 649.0,708.8 649.3,707.2 649.5,706.0 649.8,704.7 650.0,703.1 650.3,702.1 650.6,701.2 650.8,699.8 651.0,698.5 651.3,697.0 651.5,696.2 651.8,694.9 652.0,693.4 652.3,692.4 652.5,690.9 652.7,689.6 653.0,688.1 653.3,687.4 653.5,686.6 653.7,685.0 654.0,683.5 654.2,682.1 654.4,680.7 654.7,679.7 655.0,678.7 655.3,677.2 655.6,676.1 656.0,674.7 656.5,673.9 657.0,672.6 657.6,671.3 658.2,670.6 658.8,669.4 659.5,668.7 660.2,667.8 660.9,667.1 661.7,665.9 662.6,665.1 663.6,664.4 664.7,663.7 665.8,663.4 666.9,662.6 668.1,662.4 669.2,662.2 670.3,661.3 671.5,660.9 672.7,660.7 673.8,660.7 675.0,660.9 676.2,661.0 677.5,661.2 678.9,661.4 679.9,661.7 681.0,662.1 682.1,662.6 683.3,662.8 684.5,663.2 685.7,663.5 686.9,664.0 688.1,664.2 689.2,664.9 690.4,665.3 691.6,665.5 692.8,665.5 694.0,665.5 695.2,665.5 696.3,665.4 697.6,666.0 698.9,666.7 700.3,666.3 701.8,666.2 702.8,666.6 703.9,666.9 704.9,666.7 706.0,666.7 707.2,667.3 708.3,667.2 709.5,668.0 710.7,668.1 712.0,668.5 713.3,668.8 714.6,669.0 716.0,669.3 717.5,669.7 719.0,670.3 720.0,670.4 721.1,670.6 722.2,670.8 723.3,671.0 724.5,671.2 725.7,671.6 727.0,672.4 728.2,672.8 729.5,673.0 730.8,673.6 732.1,673.9 733.4,674.0 734.6,674.2 735.9,674.2 737.1,674.6 738.4,674.8 739.5,674.7 740.7,674.8 741.8,675.6 742.9,675.7 743.9,675.9 744.8,675.9 746.4,675.8 747.9,675.7 749.3,675.6 750.6,675.0 751.8,674.7 752.9,674.3 754.0,673.6 755.0,673.1 756.1,672.5 757.1,672.4 758.1,672.1 759.2,672.3 760.4,672.2 761.5,672.9 762.5,673.2 763.4,673.6 764.4,674.1 765.3,675.0 766.4,675.4 767.6,676.4 769.0,676.9 770.6,677.0 771.6,676.6 772.6,676.6 773.8,676.4 775.1,676.1 776.4,676.2 777.8,676.6 779.2,676.1 780.6,676.1 782.1,676.0 783.5,675.4 784.9,675.1 786.3,675.0 787.6,674.9 788.9,674.4 790.1,674.3 791.1,674.1 792.1,674.2 792.9,673.7 793.6,673.6" fill="none" stroke="#111" stroke-width="3.0" stroke-linejoin="round" stroke-linecap="butt"/>
<text x="446.5" y="32.5" font-size="20" text-anchor="start" fill="#111" >no light</text>
<text x="511.8" y="105.4" font-size="20" text-anchor="end" fill="#111" >–30 ms</text>
<text x="511.8" y="206.1" font-size="20" text-anchor="end" fill="#111" >–20 ms</text>
<text x="511.8" y="302.1" font-size="20" text-anchor="end" fill="#111" >–10 ms</text>
<text x="511.8" y="400.4" font-size="20" text-anchor="end" fill="#111" >0 ms</text>
<text x="511.8" y="492.7" font-size="20" text-anchor="end" fill="#111" >10 ms</text>
<text x="511.8" y="567.2" font-size="20" text-anchor="end" fill="#111" >20 ms</text>
<text x="511.8" y="661.1" font-size="20" text-anchor="end" fill="#111" >30 ms</text>
<rect x="500.5" y="115.0" width="22.5" height="5.5" fill="#808080"/>
<rect x="523.2" y="209.5" width="22.5" height="5.5" fill="#808080"/>
<rect x="545.8" y="303.8" width="22.5" height="5.5" fill="#808080"/>
<rect x="568.8" y="398.0" width="22.5" height="5.5" fill="#808080"/>
<rect x="591.5" y="484.2" width="22.5" height="5.5" fill="#808080"/>
<rect x="613.6" y="561.3" width="22.5" height="5.5" fill="#808080"/>
<rect x="636.5" y="653.0" width="22.5" height="5.5" fill="#808080"/>
<polygon points="563.8,15.5 573.0,15.5 568.4,31.2" fill="#333"/>
<polygon points="563.8,110.0 573.0,110.0 568.4,126.2" fill="#333"/>
<polygon points="563.8,198.8 573.0,198.8 568.4,214.5" fill="#333"/>
<polygon points="563.8,287.0 573.0,287.0 568.4,302.5" fill="#333"/>
<polygon points="563.8,380.0 573.0,380.0 568.4,395.0" fill="#333"/>
<polygon points="563.8,473.5 573.0,473.5 568.4,489.1" fill="#333"/>
<polygon points="563.8,556.7 573.0,556.7 568.4,571.7" fill="#333"/>
<polygon points="563.8,650.7 573.0,650.7 568.4,666.7" fill="#333"/>
<polygon points="640.3,185.0 640.3,201.4 649.1,198.6" fill="#fff" stroke="#111" stroke-width="1.5" stroke-linejoin="miter"/>
<polygon points="646.0,266.5 646.0,282.9 654.8,280.1" fill="#fff" stroke="#111" stroke-width="1.5" stroke-linejoin="miter"/>
<polygon points="657.0,355.5 657.0,371.9 665.8,369.1" fill="#fff" stroke="#111" stroke-width="1.5" stroke-linejoin="miter"/>
<polygon points="605.5,430.2 605.5,446.6 614.3,443.8" fill="#fff" stroke="#111" stroke-width="1.5" stroke-linejoin="miter"/>
<polygon points="604.3,526.3 604.3,542.7 613.1,539.9" fill="#fff" stroke="#111" stroke-width="1.5" stroke-linejoin="miter"/>
<polygon points="623.8,635.7 623.8,652.1 632.6,649.3" fill="#fff" stroke="#111" stroke-width="1.5" stroke-linejoin="miter"/>
<polygon points="641.6,733.7 641.6,750.1 650.4,747.3" fill="#fff" stroke="#111" stroke-width="1.5" stroke-linejoin="miter"/>
<text x="768.3" y="55.8" font-size="16.5" text-anchor="start" fill="#111" >LFP</text>
<line x1="629.7" y1="22.5" x2="629.7" y2="752.1" stroke="#111" stroke-width="3" stroke-dasharray="5.8 6.3"/>
<polyline points="677.7,730 789.2,730 789.2,690" fill="none" stroke="#111" stroke-width="3.3"/>
<text x="730.4" y="701.8" font-size="16.7" text-anchor="middle" fill="#111" >0.5 mV</text>
<text x="730.7" y="721.7" font-size="16.7" text-anchor="middle" fill="#111" >50 ms</text>
<text x="1.5" y="780.75" font-size="27.5" text-anchor="start" fill="#111" >B</text>
<line x1="71.45" y1="789" x2="71.45" y2="1011.3" stroke="#888" stroke-width="2.1"/>
<line x1="70.45" y1="1007.3" x2="367.6" y2="1007.3" stroke="#888" stroke-width="2.1"/>
<line x1="66.9" y1="1007.3" x2="71.45" y2="1007.3" stroke="#888" stroke-width="1.6"/>
<text x="61.9" y="1013.8" font-size="17" text-anchor="end" fill="#111" >0</text>
<line x1="66.9" y1="964.0" x2="71.45" y2="964.0" stroke="#888" stroke-width="1.6"/>
<text x="61.9" y="970.5" font-size="17" text-anchor="end" fill="#111" >20</text>
<line x1="66.9" y1="920.7" x2="71.45" y2="920.7" stroke="#888" stroke-width="1.6"/>
<text x="61.9" y="927.2" font-size="17" text-anchor="end" fill="#111" >40</text>
<line x1="66.9" y1="877.4" x2="71.45" y2="877.4" stroke="#888" stroke-width="1.6"/>
<text x="61.9" y="883.9" font-size="17" text-anchor="end" fill="#111" >60</text>
<line x1="66.9" y1="834.1" x2="71.45" y2="834.1" stroke="#888" stroke-width="1.6"/>
<text x="61.9" y="840.6" font-size="17" text-anchor="end" fill="#111" >80</text>
<line x1="66.9" y1="790.8" x2="71.45" y2="790.8" stroke="#888" stroke-width="1.6"/>
<text x="61.9" y="797.3" font-size="17" text-anchor="end" fill="#111" >100</text>
<line x1="71.2" y1="1007.3" x2="71.2" y2="1011.5" stroke="#888" stroke-width="1.8"/>
<line x1="113.4" y1="1007.3" x2="113.4" y2="1011.5" stroke="#888" stroke-width="1.8"/>
<line x1="155.5" y1="1007.3" x2="155.5" y2="1011.5" stroke="#888" stroke-width="1.8"/>
<line x1="197.7" y1="1007.3" x2="197.7" y2="1011.5" stroke="#888" stroke-width="1.8"/>
<line x1="239.9" y1="1007.3" x2="239.9" y2="1011.5" stroke="#888" stroke-width="1.8"/>
<line x1="282.1" y1="1007.3" x2="282.1" y2="1011.5" stroke="#888" stroke-width="1.8"/>
<line x1="324.2" y1="1007.3" x2="324.2" y2="1011.5" stroke="#888" stroke-width="1.8"/>
<line x1="366.4" y1="1007.3" x2="366.4" y2="1011.5" stroke="#888" stroke-width="1.8"/>
<text x="71.2" y="1031.8" font-size="17" text-anchor="middle" fill="#111" >0</text>
<text x="113.4" y="1031.8" font-size="17" text-anchor="middle" fill="#111" >5</text>
<text x="155.5" y="1031.8" font-size="17" text-anchor="middle" fill="#111" >10</text>
<text x="197.7" y="1031.8" font-size="17" text-anchor="middle" fill="#111" >15</text>
<text x="239.9" y="1031.8" font-size="17" text-anchor="middle" fill="#111" >20</text>
<text x="282.1" y="1031.8" font-size="17" text-anchor="middle" fill="#111" >30</text>
<text x="324.2" y="1031.8" font-size="17" text-anchor="middle" fill="#111" >40</text>
<text x="366.4" y="1031.8" font-size="17" text-anchor="middle" fill="#111" >50</text>
<line x1="68" y1="790.3" x2="368.6" y2="790.3" stroke="#222" stroke-width="3.2" stroke-dasharray="9.2 9"/>
<line x1="72" y1="895.6" x2="72" y2="925.6" stroke="#111" stroke-width="1.7"/>
<line x1="68.5" y1="895.6" x2="75.5" y2="895.6" stroke="#111" stroke-width="1.7"/>
<line x1="68.5" y1="925.6" x2="75.5" y2="925.6" stroke="#111" stroke-width="1.7"/>
<line x1="114" y1="918.6" x2="114" y2="939.6" stroke="#111" stroke-width="1.7"/>
<line x1="110.5" y1="918.6" x2="117.5" y2="918.6" stroke="#111" stroke-width="1.7"/>
<line x1="110.5" y1="939.6" x2="117.5" y2="939.6" stroke="#111" stroke-width="1.7"/>
<line x1="157" y1="906" x2="157" y2="933.6" stroke="#111" stroke-width="1.7"/>
<line x1="153.5" y1="906" x2="160.5" y2="906" stroke="#111" stroke-width="1.7"/>
<line x1="153.5" y1="933.6" x2="160.5" y2="933.6" stroke="#111" stroke-width="1.7"/>
<line x1="199" y1="922" x2="199" y2="935.6" stroke="#111" stroke-width="1.7"/>
<line x1="195.5" y1="922" x2="202.5" y2="922" stroke="#111" stroke-width="1.7"/>
<line x1="195.5" y1="935.6" x2="202.5" y2="935.6" stroke="#111" stroke-width="1.7"/>
<line x1="240" y1="922.6" x2="240" y2="940.4" stroke="#111" stroke-width="1.7"/>
<line x1="236.5" y1="922.6" x2="243.5" y2="922.6" stroke="#111" stroke-width="1.7"/>
<line x1="236.5" y1="940.4" x2="243.5" y2="940.4" stroke="#111" stroke-width="1.7"/>
<line x1="283" y1="899.4" x2="283" y2="934" stroke="#111" stroke-width="1.7"/>
<line x1="279.5" y1="899.4" x2="286.5" y2="899.4" stroke="#111" stroke-width="1.7"/>
<line x1="279.5" y1="934" x2="286.5" y2="934" stroke="#111" stroke-width="1.7"/>
<line x1="324.4" y1="913" x2="324.4" y2="939.6" stroke="#111" stroke-width="1.7"/>
<line x1="320.9" y1="913" x2="327.9" y2="913" stroke="#111" stroke-width="1.7"/>
<line x1="320.9" y1="939.6" x2="327.9" y2="939.6" stroke="#111" stroke-width="1.7"/>
<line x1="367.6" y1="923.6" x2="367.6" y2="944.4" stroke="#111" stroke-width="1.7"/>
<line x1="364.1" y1="923.6" x2="371.1" y2="923.6" stroke="#111" stroke-width="1.7"/>
<line x1="364.1" y1="944.4" x2="371.1" y2="944.4" stroke="#111" stroke-width="1.7"/>
<polyline points="72.0,911.0 114.0,928.0 157.0,920.0 199.0,928.4 240.0,931.0 283.0,916.0 324.4,925.6 367.6,934.0" fill="none" stroke="#111" stroke-width="4.6" stroke-linejoin="round"/>
<text x="219.9" y="1061" font-size="20.3" text-anchor="middle" fill="#111" >post stimulus duration (ms)</text>
<text transform="translate(24,976) rotate(-90)" font-size="20" fill="#111">peak amplitude (%)</text>
<path d="M78.50,854.80L72.50,854.80M78.50,854.80L76.65,849.09M78.50,854.80L83.35,851.27M78.50,854.80L83.35,858.33M78.50,854.80L76.65,860.51" stroke="#111" stroke-width="2.4" fill="none"/>
<path d="M78.50,868.90L72.50,868.90M78.50,868.90L76.65,863.19M78.50,868.90L83.35,865.37M78.50,868.90L83.35,872.43M78.50,868.90L76.65,874.61" stroke="#111" stroke-width="2.4" fill="none"/>
<path d="M78.50,883.00L72.50,883.00M78.50,883.00L76.65,877.29M78.50,883.00L83.35,879.47M78.50,883.00L83.35,886.53M78.50,883.00L76.65,888.71" stroke="#111" stroke-width="2.4" fill="none"/>
<path d="M114.80,877.50L108.80,877.50M114.80,877.50L112.95,871.79M114.80,877.50L119.65,873.97M114.80,877.50L119.65,881.03M114.80,877.50L112.95,883.21" stroke="#111" stroke-width="2.4" fill="none"/>
<path d="M114.80,891.60L108.80,891.60M114.80,891.60L112.95,885.89M114.80,891.60L119.65,888.07M114.80,891.60L119.65,895.13M114.80,891.60L112.95,897.31" stroke="#111" stroke-width="2.4" fill="none"/>
<path d="M114.80,905.70L108.80,905.70M114.80,905.70L112.95,899.99M114.80,905.70L119.65,902.17M114.80,905.70L119.65,909.23M114.80,905.70L112.95,911.41" stroke="#111" stroke-width="2.4" fill="none"/>
<path d="M157.00,863.40L151.00,863.40M157.00,863.40L155.15,857.69M157.00,863.40L161.85,859.87M157.00,863.40L161.85,866.93M157.00,863.40L155.15,869.11" stroke="#111" stroke-width="2.4" fill="none"/>
<path d="M157.00,877.50L151.00,877.50M157.00,877.50L155.15,871.79M157.00,877.50L161.85,873.97M157.00,877.50L161.85,881.03M157.00,877.50L155.15,883.21" stroke="#111" stroke-width="2.4" fill="none"/>
<path d="M157.00,891.60L151.00,891.60M157.00,891.60L155.15,885.89M157.00,891.60L161.85,888.07M157.00,891.60L161.85,895.13M157.00,891.60L155.15,897.31" stroke="#111" stroke-width="2.4" fill="none"/>
<path d="M198.80,878.50L192.80,878.50M198.80,878.50L196.95,872.79M198.80,878.50L203.65,874.97M198.80,878.50L203.65,882.03M198.80,878.50L196.95,884.21" stroke="#111" stroke-width="2.4" fill="none"/>
<path d="M198.80,892.60L192.80,892.60M198.80,892.60L196.95,886.89M198.80,892.60L203.65,889.07M198.80,892.60L203.65,896.13M198.80,892.60L196.95,898.31" stroke="#111" stroke-width="2.4" fill="none"/>
<path d="M198.80,906.70L192.80,906.70M198.80,906.70L196.95,900.99M198.80,906.70L203.65,903.17M198.80,906.70L203.65,910.23M198.80,906.70L196.95,912.41" stroke="#111" stroke-width="2.4" fill="none"/>
<path d="M241.00,879.20L235.00,879.20M241.00,879.20L239.15,873.49M241.00,879.20L245.85,875.67M241.00,879.20L245.85,882.73M241.00,879.20L239.15,884.91" stroke="#111" stroke-width="2.4" fill="none"/>
<path d="M241.00,893.30L235.00,893.30M241.00,893.30L239.15,887.59M241.00,893.30L245.85,889.77M241.00,893.30L245.85,896.83M241.00,893.30L239.15,899.01" stroke="#111" stroke-width="2.4" fill="none"/>
<path d="M241.00,907.40L235.00,907.40M241.00,907.40L239.15,901.69M241.00,907.40L245.85,903.87M241.00,907.40L245.85,910.93M241.00,907.40L239.15,913.11" stroke="#111" stroke-width="2.4" fill="none"/>
<path d="M282.30,859.70L276.30,859.70M282.30,859.70L280.45,853.99M282.30,859.70L287.15,856.17M282.30,859.70L287.15,863.23M282.30,859.70L280.45,865.41" stroke="#111" stroke-width="2.4" fill="none"/>
<path d="M282.30,873.80L276.30,873.80M282.30,873.80L280.45,868.09M282.30,873.80L287.15,870.27M282.30,873.80L287.15,877.33M282.30,873.80L280.45,879.51" stroke="#111" stroke-width="2.4" fill="none"/>
<path d="M282.30,887.90L276.30,887.90M282.30,887.90L280.45,882.19M282.30,887.90L287.15,884.37M282.30,887.90L287.15,891.43M282.30,887.90L280.45,893.61" stroke="#111" stroke-width="2.4" fill="none"/>
<path d="M325.30,869.80L319.30,869.80M325.30,869.80L323.45,864.09M325.30,869.80L330.15,866.27M325.30,869.80L330.15,873.33M325.30,869.80L323.45,875.51" stroke="#111" stroke-width="2.4" fill="none"/>
<path d="M325.30,883.90L319.30,883.90M325.30,883.90L323.45,878.19M325.30,883.90L330.15,880.37M325.30,883.90L330.15,887.43M325.30,883.90L323.45,889.61" stroke="#111" stroke-width="2.4" fill="none"/>
<path d="M325.30,898.00L319.30,898.00M325.30,898.00L323.45,892.29M325.30,898.00L330.15,894.47M325.30,898.00L330.15,901.53M325.30,898.00L323.45,903.71" stroke="#111" stroke-width="2.4" fill="none"/>
<path d="M367.00,882.70L361.00,882.70M367.00,882.70L365.15,876.99M367.00,882.70L371.85,879.17M367.00,882.70L371.85,886.23M367.00,882.70L365.15,888.41" stroke="#111" stroke-width="2.4" fill="none"/>
<path d="M367.00,896.80L361.00,896.80M367.00,896.80L365.15,891.09M367.00,896.80L371.85,893.27M367.00,896.80L371.85,900.33M367.00,896.80L365.15,902.51" stroke="#111" stroke-width="2.4" fill="none"/>
<path d="M367.00,910.90L361.00,910.90M367.00,910.90L365.15,905.19M367.00,910.90L371.85,907.37M367.00,910.90L371.85,914.43M367.00,910.90L365.15,916.61" stroke="#111" stroke-width="2.4" fill="none"/>
<text x="423.75" y="780.75" font-size="27.5" text-anchor="start" fill="#111" >D</text>
<line x1="489.9" y1="787.8" x2="489.9" y2="1006.2" stroke="#222" stroke-width="2.5"/>
<line x1="484.5" y1="1006.2" x2="790" y2="1006.2" stroke="#222" stroke-width="2.5"/>
<line x1="483.3" y1="1006.2" x2="489.9" y2="1006.2" stroke="#222" stroke-width="2.2"/>
<text x="474.4" y="1012.5" font-size="17" text-anchor="end" fill="#111" >0</text>
<line x1="483.3" y1="933.8" x2="489.9" y2="933.8" stroke="#222" stroke-width="2.2"/>
<text x="474.4" y="940.0" font-size="17" text-anchor="end" fill="#111" >50</text>
<line x1="483.3" y1="861.3" x2="489.9" y2="861.3" stroke="#222" stroke-width="2.2"/>
<text x="474.4" y="867.6" font-size="17" text-anchor="end" fill="#111" >100</text>
<line x1="483.3" y1="788.9" x2="489.9" y2="788.9" stroke="#222" stroke-width="2.2"/>
<text x="474.4" y="795.1" font-size="17" text-anchor="end" fill="#111" >150</text>
<rect x="508.0" y="872" width="29.5" height="134.2" fill="#1a1a1a"/>
<line x1="522.75" y1="855.75" x2="522.75" y2="872" stroke="#1a1a1a" stroke-width="3"/>
<line x1="514.25" y1="855.75" x2="531.25" y2="855.75" stroke="#1a1a1a" stroke-width="3"/>
<rect x="548.8" y="897" width="29.5" height="109.2" fill="#1a1a1a"/>
<line x1="563.5" y1="880.25" x2="563.5" y2="897" stroke="#1a1a1a" stroke-width="3"/>
<line x1="555.0" y1="880.25" x2="572.0" y2="880.25" stroke="#1a1a1a" stroke-width="3"/>
<rect x="589.2" y="903.5" width="30" height="102.7" fill="#1a1a1a"/>
<line x1="604.2" y1="888" x2="604.2" y2="903.5" stroke="#1a1a1a" stroke-width="3"/>
<line x1="595.7" y1="888" x2="612.7" y2="888" stroke="#1a1a1a" stroke-width="3"/>
<rect x="630.4" y="961.5" width="29.4" height="44.7" fill="#1a1a1a"/>
<line x1="645.1" y1="958" x2="645.1" y2="961.5" stroke="#1a1a1a" stroke-width="3"/>
<line x1="636.6" y1="958" x2="653.6" y2="958" stroke="#1a1a1a" stroke-width="3"/>
<rect x="671.5" y="940.4" width="29.4" height="65.8" fill="#1a1a1a"/>
<line x1="686.2" y1="932.9" x2="686.2" y2="940.4" stroke="#1a1a1a" stroke-width="3"/>
<line x1="677.7" y1="932.9" x2="694.7" y2="932.9" stroke="#1a1a1a" stroke-width="3"/>
<rect x="712.0" y="878" width="30.5" height="128.2" fill="#1a1a1a"/>
<line x1="727.25" y1="869" x2="727.25" y2="878" stroke="#1a1a1a" stroke-width="3"/>
<line x1="718.75" y1="869" x2="735.75" y2="869" stroke="#1a1a1a" stroke-width="3"/>
<rect x="752.7" y="853" width="31.1" height="153.2" fill="#1a1a1a"/>
<line x1="768.25" y1="847.5" x2="768.25" y2="853" stroke="#1a1a1a" stroke-width="3"/>
<line x1="759.75" y1="847.5" x2="776.75" y2="847.5" stroke="#1a1a1a" stroke-width="3"/>
<line x1="523.2" y1="1006.2" x2="523.2" y2="1014.5" stroke="#222" stroke-width="2.2"/>
<line x1="563.9" y1="1006.2" x2="563.9" y2="1014.5" stroke="#222" stroke-width="2.2"/>
<line x1="604.4" y1="1006.2" x2="604.4" y2="1014.5" stroke="#222" stroke-width="2.2"/>
<line x1="645.4" y1="1006.2" x2="645.4" y2="1014.5" stroke="#222" stroke-width="2.2"/>
<line x1="686.4" y1="1006.2" x2="686.4" y2="1014.5" stroke="#222" stroke-width="2.2"/>
<line x1="727.4" y1="1006.2" x2="727.4" y2="1014.5" stroke="#222" stroke-width="2.2"/>
<line x1="768" y1="1006.2" x2="768" y2="1014.5" stroke="#222" stroke-width="2.2"/>
<line x1="485.4" y1="860.8" x2="786" y2="860.8" stroke="#383838" stroke-width="3.2" stroke-dasharray="8.8 9.4"/>
<text x="502.1" y="1033.2" font-size="17" text-anchor="start" fill="#111" >–30</text>
<text x="542.9" y="1033.2" font-size="17" text-anchor="start" fill="#111" >–20</text>
<text x="583.2" y="1033.2" font-size="17" text-anchor="start" fill="#111" >–10</text>
<text x="640.4" y="1033.2" font-size="17" text-anchor="start" fill="#111" >0</text>
<text x="665.6" y="1033.2" font-size="17" text-anchor="start" fill="#111" >+10</text>
<text x="705.6" y="1033.2" font-size="17" text-anchor="start" fill="#111" >+20</text>
<text x="748" y="1033.2" font-size="17" text-anchor="start" fill="#111" >+30</text>
<text x="647" y="1061" font-size="20.2" text-anchor="middle" fill="#111" >pulse delay (ms)</text>
<text transform="translate(438.8,977) rotate(-90)" font-size="20" fill="#111">peak amplitude (%)</text>
<path d="M645.10,915.40L639.10,915.40M645.10,915.40L643.25,909.69M645.10,915.40L649.95,911.87M645.10,915.40L649.95,918.93M645.10,915.40L643.25,921.11" stroke="#111" stroke-width="2.4" fill="none"/>
<path d="M645.10,929.50L639.10,929.50M645.10,929.50L643.25,923.79M645.10,929.50L649.95,925.97M645.10,929.50L649.95,933.03M645.10,929.50L643.25,935.21" stroke="#111" stroke-width="2.4" fill="none"/>
<path d="M645.10,943.60L639.10,943.60M645.10,943.60L643.25,937.89M645.10,943.60L649.95,940.07M645.10,943.60L649.95,947.13M645.10,943.60L643.25,949.31" stroke="#111" stroke-width="2.4" fill="none"/>
<path d="M686.20,889.65L680.20,889.65M686.20,889.65L684.35,883.94M686.20,889.65L691.05,886.12M686.20,889.65L691.05,893.18M686.20,889.65L684.35,895.36" stroke="#111" stroke-width="2.4" fill="none"/>
<path d="M686.20,903.75L680.20,903.75M686.20,903.75L684.35,898.04M686.20,903.75L691.05,900.22M686.20,903.75L691.05,907.28M686.20,903.75L684.35,909.46" stroke="#111" stroke-width="2.4" fill="none"/>
<path d="M686.20,917.85L680.20,917.85M686.20,917.85L684.35,912.14M686.20,917.85L691.05,914.32M686.20,917.85L691.05,921.38M686.20,917.85L684.35,923.56" stroke="#111" stroke-width="2.4" fill="none"/>
</svg>
</body></html>
